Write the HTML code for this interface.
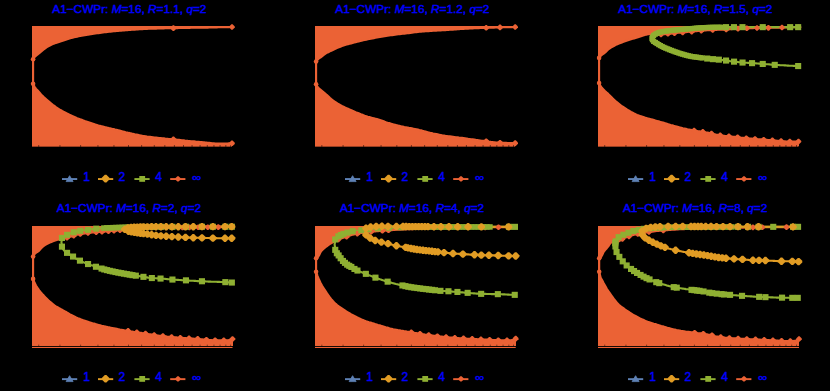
<!DOCTYPE html>
<html><head><meta charset="utf-8"><title>A1-CWPr</title>
<style>
html,body{margin:0;padding:0;background:#000;}
body{width:830px;height:391px;overflow:hidden;position:relative;font-family:"Liberation Sans",sans-serif;}
svg{position:absolute;left:0;top:0;display:block;}
text{font-family:"Liberation Sans",sans-serif;fill:#0000FF;stroke:#0000FF;stroke-width:.45px;}
.t{font-size:11.8px;}
.l{font-size:12px;}
i{font-style:italic;}
</style></head><body>
<svg width="830" height="391" viewBox="0 0 830 391">
<rect width="830" height="391" fill="#000"/>
<polygon points="32,26 232,26 232,27 230.5,27 229,27.1 227.4,27.1 225.9,27.2 224.4,27.2 222.9,27.2 221.4,27.3 219.9,27.3 218.3,27.3 216.8,27.4 215.3,27.4 213.8,27.4 212.3,27.5 210.7,27.5 209.2,27.5 207.7,27.6 206.2,27.6 204.7,27.6 203.2,27.6 201.6,27.7 200.1,27.7 198.6,27.7 197.1,27.7 195.6,27.8 194,27.8 192.5,27.8 191,27.8 189.5,27.9 188,27.9 186.5,27.9 184.9,27.9 183.4,28 181.9,28 180.4,28 178.9,28 177.3,28.1 175.8,28.1 174.3,28.1 172.8,28.2 171.3,28.2 169.7,28.2 168.2,28.3 166.7,28.3 165.2,28.3 163.7,28.4 162.2,28.4 160.6,28.4 159.1,28.5 157.6,28.5 156.1,28.6 154.6,28.6 153,28.6 151.5,28.7 150,28.7 148.5,28.8 147,28.9 145.5,28.9 143.9,29 142.4,29.1 140.9,29.2 139.4,29.3 137.9,29.4 136.3,29.5 134.8,29.6 133.3,29.7 131.8,29.8 130.3,29.9 128.8,30 127.2,30.2 125.7,30.3 124.2,30.4 122.7,30.5 121.2,30.6 119.6,30.8 118.1,30.9 116.6,31 115.1,31.2 113.6,31.3 112.1,31.5 110.5,31.6 109,31.8 107.5,32 106,32.1 104.5,32.3 102.9,32.5 101.4,32.7 99.9,32.9 98.4,33.1 96.9,33.3 95.4,33.5 93.8,33.7 92.3,33.9 90.8,34.2 89.3,34.4 87.8,34.7 86.2,34.9 84.7,35.2 83.2,35.5 81.7,35.7 80.2,36 78.6,36.3 77.1,36.7 75.6,37 74.1,37.3 72.6,37.7 71.1,38.1 69.5,38.6 68,39.1 66.5,39.5 65,40 63.5,40.5 61.9,41 60.4,41.4 58.9,41.9 57.4,42.4 55.9,42.9 54.4,43.5 52.8,44.1 51.3,44.7 49.8,45.5 48.3,46.3 46.8,47.2 45.2,48.3 43.7,49.4 42.2,50.6 40.7,51.9 39.2,53.3 37.7,54.5 36.1,55.7 34.6,57.1 33.1,59.2 33.1,83.7 34.6,86.8 36.1,88.9 37.7,90.5 39.2,92.2 40.7,94 42.2,95.6 43.7,97.1 45.2,98.4 46.8,99.7 48.3,101 49.8,102.3 51.3,103.6 52.8,104.8 54.4,105.9 55.9,107 57.4,108 58.9,109 60.4,110 61.9,110.8 63.5,111.7 65,112.5 66.5,113.3 68,114 69.5,114.7 71.1,115.4 72.6,116.1 74.1,116.8 75.6,117.4 77.1,118.1 78.6,118.7 80.2,119.3 81.7,119.8 83.2,120.4 84.7,121 86.2,121.5 87.8,122 89.3,122.5 90.8,123 92.3,123.5 93.8,124 95.4,124.5 96.9,124.9 98.4,125.4 99.9,125.8 101.4,126.2 102.9,126.6 104.5,127 106,127.4 107.5,127.7 109,128.1 110.5,128.4 112.1,128.8 113.6,129.1 115.1,129.5 116.6,129.8 118.1,130.2 119.6,130.6 121.2,131 122.7,131.4 124.2,131.8 125.7,132.2 127.2,132.5 128.8,132.9 130.3,133.2 131.8,133.6 133.3,133.9 134.8,134.3 136.3,134.6 137.9,134.9 139.4,135.2 140.9,135.5 142.4,135.8 143.9,136 145.5,136.2 147,136.5 148.5,136.7 150,136.9 151.5,137.1 153,137.3 154.6,137.5 156.1,137.6 157.6,137.8 159.1,138 160.6,138.1 162.2,138.3 163.7,138.4 165.2,138.6 166.7,138.7 168.2,138.9 169.7,139 171.3,139.1 172.8,139.3 174.3,139.4 175.8,139.6 177.3,139.8 178.9,139.9 180.4,140.1 181.9,140.3 183.4,140.4 184.9,140.6 186.5,140.7 188,140.9 189.5,141 191,141.2 192.5,141.3 194,141.4 195.6,141.6 197.1,141.7 198.6,141.8 200.1,142 201.6,142.1 203.2,142.2 204.7,142.4 206.2,142.5 207.7,142.7 209.2,142.8 210.7,143 212.3,143.2 213.8,143.3 215.3,143.5 216.8,143.5 218.3,143.5 219.9,143.5 221.4,143.5 222.9,143.5 224.4,143.5 225.9,143.5 227.4,143.5 229,143.4 230.5,143.4 232,143.3 232,146 32,146" fill="#EB6235" shape-rendering="crispEdges"/>
<rect x="32" y="146" width="200" height="0.65" fill="#EB6235"/>
<rect x="38.3" y="145.2" width="0.9" height="1.6" fill="#000" fill-opacity="0.7"/>
<rect x="59.5" y="145.2" width="0.9" height="1.6" fill="#000" fill-opacity="0.7"/>
<rect x="80.2" y="145.2" width="0.9" height="1.6" fill="#000" fill-opacity="0.7"/>
<rect x="97.5" y="145.2" width="0.9" height="1.6" fill="#000" fill-opacity="0.7"/>
<rect x="113.5" y="145.2" width="0.9" height="1.6" fill="#000" fill-opacity="0.7"/>
<rect x="128" y="145.2" width="0.9" height="1.6" fill="#000" fill-opacity="0.7"/>
<rect x="141.2" y="145.2" width="0.9" height="1.6" fill="#000" fill-opacity="0.7"/>
<rect x="153.8" y="145.2" width="0.9" height="1.6" fill="#000" fill-opacity="0.7"/>
<rect x="164.4" y="145.2" width="0.9" height="1.6" fill="#000" fill-opacity="0.7"/>
<rect x="173.9" y="145.2" width="0.9" height="1.6" fill="#000" fill-opacity="0.7"/>
<rect x="183" y="145.2" width="0.9" height="1.6" fill="#000" fill-opacity="0.7"/>
<rect x="191.6" y="145.2" width="0.9" height="1.6" fill="#000" fill-opacity="0.7"/>
<rect x="199.6" y="145.2" width="0.9" height="1.6" fill="#000" fill-opacity="0.7"/>
<rect x="206.8" y="145.2" width="0.9" height="1.6" fill="#000" fill-opacity="0.7"/>
<rect x="213.5" y="145.2" width="0.9" height="1.6" fill="#000" fill-opacity="0.7"/>
<rect x="219.6" y="145.2" width="0.9" height="1.6" fill="#000" fill-opacity="0.7"/>
<rect x="225.4" y="145.2" width="0.9" height="1.6" fill="#000" fill-opacity="0.7"/>
<rect x="230.2" y="145.2" width="0.9" height="1.6" fill="#000" fill-opacity="0.7"/>
<polyline points="232,27 230.5,27 229,27.1 227.4,27.1 225.9,27.2 224.4,27.2 222.9,27.2 221.4,27.3 219.9,27.3 218.3,27.3 216.8,27.4 215.3,27.4 213.8,27.4 212.3,27.5 210.7,27.5 209.2,27.5 207.7,27.6 206.2,27.6 204.7,27.6 203.2,27.6 201.6,27.7 200.1,27.7 198.6,27.7 197.1,27.7 195.6,27.8 194,27.8 192.5,27.8 191,27.8 189.5,27.9 188,27.9 186.5,27.9 184.9,27.9 183.4,28 181.9,28 180.4,28 178.9,28 177.3,28.1 175.8,28.1 174.3,28.1 172.8,28.2 171.3,28.2 169.7,28.2 168.2,28.3 166.7,28.3 165.2,28.3 163.7,28.4 162.2,28.4 160.6,28.4 159.1,28.5 157.6,28.5 156.1,28.6 154.6,28.6 153,28.6 151.5,28.7 150,28.7 148.5,28.8 147,28.9 145.5,28.9 143.9,29 142.4,29.1 140.9,29.2 139.4,29.3 137.9,29.4 136.3,29.5 134.8,29.6 133.3,29.7 131.8,29.8 130.3,29.9 128.8,30 127.2,30.2 125.7,30.3 124.2,30.4 122.7,30.5 121.2,30.6 119.6,30.8 118.1,30.9 116.6,31 115.1,31.2 113.6,31.3 112.1,31.5 110.5,31.6 109,31.8 107.5,32 106,32.1 104.5,32.3 102.9,32.5 101.4,32.7 99.9,32.9 98.4,33.1 96.9,33.3 95.4,33.5 93.8,33.7 92.3,33.9 90.8,34.2 89.3,34.4 87.8,34.7 86.2,34.9 84.7,35.2 83.2,35.5 81.7,35.7 80.2,36 78.6,36.3 77.1,36.7 75.6,37 74.1,37.3 72.6,37.7 71.1,38.1 69.5,38.6 68,39.1 66.5,39.5 65,40 63.5,40.5 61.9,41 60.4,41.4 58.9,41.9 57.4,42.4 55.9,42.9 54.4,43.5 52.8,44.1 51.3,44.7 49.8,45.5 48.3,46.3 46.8,47.2 45.2,48.3 43.7,49.4 42.2,50.6 40.7,51.9 39.2,53.3 37.7,54.5 36.1,55.7 34.6,57.1 33.1,59.2 33.1,83.7 34.6,86.8 36.1,88.9 37.7,90.5 39.2,92.2 40.7,94 42.2,95.6 43.7,97.1 45.2,98.4 46.8,99.7 48.3,101 49.8,102.3 51.3,103.6 52.8,104.8 54.4,105.9 55.9,107 57.4,108 58.9,109 60.4,110 61.9,110.8 63.5,111.7 65,112.5 66.5,113.3 68,114 69.5,114.7 71.1,115.4 72.6,116.1 74.1,116.8 75.6,117.4 77.1,118.1 78.6,118.7 80.2,119.3 81.7,119.8 83.2,120.4 84.7,121 86.2,121.5 87.8,122 89.3,122.5 90.8,123 92.3,123.5 93.8,124 95.4,124.5 96.9,124.9 98.4,125.4 99.9,125.8 101.4,126.2 102.9,126.6 104.5,127 106,127.4 107.5,127.7 109,128.1 110.5,128.4 112.1,128.8 113.6,129.1 115.1,129.5 116.6,129.8 118.1,130.2 119.6,130.6 121.2,131 122.7,131.4 124.2,131.8 125.7,132.2 127.2,132.5 128.8,132.9 130.3,133.2 131.8,133.6 133.3,133.9 134.8,134.3 136.3,134.6 137.9,134.9 139.4,135.2 140.9,135.5 142.4,135.8 143.9,136 145.5,136.2 147,136.5 148.5,136.7 150,136.9 151.5,137.1 153,137.3 154.6,137.5 156.1,137.6 157.6,137.8 159.1,138 160.6,138.1 162.2,138.3 163.7,138.4 165.2,138.6 166.7,138.7 168.2,138.9 169.7,139 171.3,139.1 172.8,139.3 174.3,139.4 175.8,139.6 177.3,139.8 178.9,139.9 180.4,140.1 181.9,140.3 183.4,140.4 184.9,140.6 186.5,140.7 188,140.9 189.5,141 191,141.2 192.5,141.3 194,141.4 195.6,141.6 197.1,141.7 198.6,141.8 200.1,142 201.6,142.1 203.2,142.2 204.7,142.4 206.2,142.5 207.7,142.7 209.2,142.8 210.7,143 212.3,143.2 213.8,143.3 215.3,143.5 216.8,143.5 218.3,143.5 219.9,143.5 221.4,143.5 222.9,143.5 224.4,143.5 225.9,143.5 227.4,143.5 229,143.4 230.5,143.4 232,143.3" fill="none" stroke="#EB6235" stroke-width="2.1" stroke-linejoin="round"/>
<polygon points="229.2,26.4 231.4,24.2 232.6,24.2 234.8,26.4 234.8,27.6 232.6,29.8 231.4,29.8 229.2,27.6" fill="#EB6235"/>
<polygon points="170.6,27.5 172.8,25.3 174,25.3 176.2,27.5 176.2,28.8 174,30.9 172.8,30.9 170.6,28.8" fill="#EB6235"/>
<polygon points="229.2,142.7 231.4,140.5 232.6,140.5 234.8,142.7 234.8,143.9 232.6,146.1 231.4,146.1 229.2,143.9" fill="#EB6235"/>
<polygon points="170.6,138.7 172.8,136.6 174,136.6 176.2,138.7 176.2,140 174,142.2 172.8,142.2 170.6,140" fill="#EB6235"/>
<circle cx="33.1" cy="59.2" r="2.3" fill="#EB6235"/>
<circle cx="33.1" cy="83.7" r="2.3" fill="#EB6235"/>
<text class="t" x="52.3" y="12.7">A1−CWPr: <tspan font-style="italic">M</tspan>=16, <tspan font-style="italic">R</tspan>=1.1, <tspan font-style="italic">q</tspan>=2</text>
<rect x="62" y="178.1" width="15.2" height="1.9" fill="#5E81B5"/>
<path d="M69.6 175.7L73.1 181.6L66.1 181.6Z" fill="#5E81B5" stroke="#5E81B5" stroke-width="0.8" stroke-linejoin="round"/>
<text class="l" x="83.3" y="181.1">1</text>
<rect x="98" y="178.1" width="15.2" height="1.9" fill="#E19C24"/>
<polygon points="101.8,177.8 104.8,174.8 106.4,174.8 109.4,177.8 109.4,179.5 106.4,182.5 104.8,182.5 101.8,179.5" fill="#E19C24"/>
<text class="l" x="118.4" y="181.1">2</text>
<rect x="134.4" y="178.1" width="15.2" height="1.9" fill="#8FB032"/>
<rect x="139.3" y="176" width="5.8" height="5.8" fill="#8FB032"/>
<text class="l" x="155.2" y="181.1">4</text>
<rect x="170.2" y="178.1" width="15.2" height="1.9" fill="#EB6235"/>
<polygon points="175.3,178.3 177.4,176.2 178.6,176.2 180.7,178.3 180.7,179.4 178.6,181.6 177.4,181.6 175.3,179.4" fill="#EB6235"/>
<text class="l" transform="translate(192.3 181.2) scale(1.06 0.86)" x="0" y="0">∞</text>
<polygon points="315,26 515.2,26 515.2,27 513.7,27 512.2,27.1 510.6,27.1 509.1,27.2 507.6,27.2 506.1,27.2 504.6,27.3 503,27.3 501.5,27.4 500,27.4 498.5,27.4 497,27.5 495.4,27.5 493.9,27.6 492.4,27.6 490.9,27.7 489.4,27.7 487.8,27.7 486.3,27.8 484.8,27.9 483.3,27.9 481.8,28 480.2,28 478.7,28.1 477.2,28.2 475.7,28.3 474.2,28.3 472.6,28.4 471.1,28.5 469.6,28.5 468.1,28.6 466.6,28.7 465,28.8 463.5,28.9 462,29 460.5,29 459,29.1 457.4,29.2 455.9,29.4 454.4,29.5 452.9,29.6 451.4,29.7 449.8,29.8 448.3,29.9 446.8,30 445.3,30.1 443.8,30.2 442.2,30.3 440.7,30.4 439.2,30.5 437.7,30.5 436.2,30.6 434.6,30.7 433.1,30.8 431.6,30.9 430.1,31 428.6,31.1 427,31.2 425.5,31.3 424,31.4 422.5,31.5 421,31.7 419.4,31.8 417.9,32 416.4,32.1 414.9,32.3 413.4,32.5 411.9,32.7 410.3,32.9 408.8,33.1 407.3,33.3 405.8,33.4 404.3,33.6 402.7,33.8 401.2,33.9 399.7,34.1 398.2,34.3 396.7,34.5 395.1,34.7 393.6,34.9 392.1,35.1 390.6,35.3 389.1,35.5 387.5,35.7 386,35.9 384.5,36.2 383,36.4 381.5,36.7 379.9,37 378.4,37.2 376.9,37.5 375.4,37.8 373.9,38.1 372.3,38.4 370.8,38.7 369.3,39 367.8,39.3 366.3,39.7 364.7,40 363.2,40.3 361.7,40.7 360.2,41 358.7,41.4 357.1,41.8 355.6,42.2 354.1,42.6 352.6,43 351.1,43.4 349.5,43.8 348,44.2 346.5,44.6 345,45.1 343.5,45.6 341.9,46.1 340.4,46.7 338.9,47.2 337.4,47.8 335.9,48.5 334.3,49.2 332.8,50 331.3,50.7 329.8,51.4 328.3,52.2 326.7,52.9 325.2,53.8 323.7,54.9 322.2,56.2 320.7,57.4 319.1,58.3 317.6,59.6 316.1,61.5 316.1,84.3 317.6,86.9 319.1,88.6 320.7,89.9 322.2,91.1 323.7,92.3 325.2,93.5 326.7,94.9 328.3,96.3 329.8,97.7 331.3,99 332.8,100.2 334.3,101.4 335.9,102.4 337.4,103.4 338.9,104.3 340.4,105.1 341.9,105.9 343.5,106.6 345,107.4 346.5,108.1 348,108.8 349.5,109.5 351.1,110.1 352.6,110.8 354.1,111.4 355.6,112.1 357.1,112.7 358.7,113.3 360.2,113.9 361.7,114.6 363.2,115.1 364.7,115.7 366.3,116.2 367.8,116.7 369.3,117.1 370.8,117.5 372.3,117.9 373.9,118.3 375.4,118.7 376.9,119.1 378.4,119.6 379.9,120.1 381.5,120.6 383,121.1 384.5,121.6 386,122.2 387.5,122.7 389.1,123.1 390.6,123.6 392.1,124 393.6,124.4 395.1,124.8 396.7,125.2 398.2,125.6 399.7,125.9 401.2,126.3 402.7,126.6 404.3,127 405.8,127.3 407.3,127.6 408.8,127.9 410.3,128.1 411.9,128.4 413.4,128.7 414.9,129 416.4,129.3 417.9,129.6 419.4,130 421,130.3 422.5,130.8 424,131.2 425.5,131.6 427,132 428.6,132.4 430.1,132.8 431.6,133.1 433.1,133.5 434.6,133.8 436.2,134.1 437.7,134.4 439.2,134.7 440.7,135 442.2,135.3 443.8,135.5 445.3,135.8 446.8,136 448.3,136.2 449.8,136.4 451.4,136.6 452.9,136.8 454.4,137 455.9,137.2 457.4,137.4 459,137.6 460.5,137.7 462,137.9 463.5,138.1 465,138.3 466.6,138.5 468.1,138.8 469.6,139 471.1,139.2 472.6,139.4 474.2,139.6 475.7,139.9 477.2,140.1 478.7,140.3 480.2,140.5 481.8,140.7 483.3,140.9 484.8,141.1 486.3,141.3 487.8,141.5 489.4,141.7 490.9,141.9 492.4,142 493.9,142.2 495.4,142.4 497,142.5 498.5,142.6 500,142.7 501.5,142.7 503,142.8 504.6,142.9 506.1,142.9 507.6,143 509.1,143 510.6,143 512.2,143.1 513.7,143.1 515.2,143.1 515.2,146 315,146" fill="#EB6235" shape-rendering="crispEdges"/>
<rect x="315" y="146" width="200.2" height="0.65" fill="#EB6235"/>
<rect x="321.4" y="145.2" width="0.9" height="1.6" fill="#000" fill-opacity="0.7"/>
<rect x="342.6" y="145.2" width="0.9" height="1.6" fill="#000" fill-opacity="0.7"/>
<rect x="363.2" y="145.2" width="0.9" height="1.6" fill="#000" fill-opacity="0.7"/>
<rect x="380.6" y="145.2" width="0.9" height="1.6" fill="#000" fill-opacity="0.7"/>
<rect x="396.4" y="145.2" width="0.9" height="1.6" fill="#000" fill-opacity="0.7"/>
<rect x="410.9" y="145.2" width="0.9" height="1.6" fill="#000" fill-opacity="0.7"/>
<rect x="424.2" y="145.2" width="0.9" height="1.6" fill="#000" fill-opacity="0.7"/>
<rect x="436.8" y="145.2" width="0.9" height="1.6" fill="#000" fill-opacity="0.7"/>
<rect x="447.4" y="145.2" width="0.9" height="1.6" fill="#000" fill-opacity="0.7"/>
<rect x="456.9" y="145.2" width="0.9" height="1.6" fill="#000" fill-opacity="0.7"/>
<rect x="465.9" y="145.2" width="0.9" height="1.6" fill="#000" fill-opacity="0.7"/>
<rect x="474.6" y="145.2" width="0.9" height="1.6" fill="#000" fill-opacity="0.7"/>
<rect x="482.6" y="145.2" width="0.9" height="1.6" fill="#000" fill-opacity="0.7"/>
<rect x="489.8" y="145.2" width="0.9" height="1.6" fill="#000" fill-opacity="0.7"/>
<rect x="496.4" y="145.2" width="0.9" height="1.6" fill="#000" fill-opacity="0.7"/>
<rect x="502.6" y="145.2" width="0.9" height="1.6" fill="#000" fill-opacity="0.7"/>
<rect x="508.4" y="145.2" width="0.9" height="1.6" fill="#000" fill-opacity="0.7"/>
<rect x="513.1" y="145.2" width="0.9" height="1.6" fill="#000" fill-opacity="0.7"/>
<polyline points="515.2,27 513.7,27 512.2,27.1 510.6,27.1 509.1,27.2 507.6,27.2 506.1,27.2 504.6,27.3 503,27.3 501.5,27.4 500,27.4 498.5,27.4 497,27.5 495.4,27.5 493.9,27.6 492.4,27.6 490.9,27.7 489.4,27.7 487.8,27.7 486.3,27.8 484.8,27.9 483.3,27.9 481.8,28 480.2,28 478.7,28.1 477.2,28.2 475.7,28.3 474.2,28.3 472.6,28.4 471.1,28.5 469.6,28.5 468.1,28.6 466.6,28.7 465,28.8 463.5,28.9 462,29 460.5,29 459,29.1 457.4,29.2 455.9,29.4 454.4,29.5 452.9,29.6 451.4,29.7 449.8,29.8 448.3,29.9 446.8,30 445.3,30.1 443.8,30.2 442.2,30.3 440.7,30.4 439.2,30.5 437.7,30.5 436.2,30.6 434.6,30.7 433.1,30.8 431.6,30.9 430.1,31 428.6,31.1 427,31.2 425.5,31.3 424,31.4 422.5,31.5 421,31.7 419.4,31.8 417.9,32 416.4,32.1 414.9,32.3 413.4,32.5 411.9,32.7 410.3,32.9 408.8,33.1 407.3,33.3 405.8,33.4 404.3,33.6 402.7,33.8 401.2,33.9 399.7,34.1 398.2,34.3 396.7,34.5 395.1,34.7 393.6,34.9 392.1,35.1 390.6,35.3 389.1,35.5 387.5,35.7 386,35.9 384.5,36.2 383,36.4 381.5,36.7 379.9,37 378.4,37.2 376.9,37.5 375.4,37.8 373.9,38.1 372.3,38.4 370.8,38.7 369.3,39 367.8,39.3 366.3,39.7 364.7,40 363.2,40.3 361.7,40.7 360.2,41 358.7,41.4 357.1,41.8 355.6,42.2 354.1,42.6 352.6,43 351.1,43.4 349.5,43.8 348,44.2 346.5,44.6 345,45.1 343.5,45.6 341.9,46.1 340.4,46.7 338.9,47.2 337.4,47.8 335.9,48.5 334.3,49.2 332.8,50 331.3,50.7 329.8,51.4 328.3,52.2 326.7,52.9 325.2,53.8 323.7,54.9 322.2,56.2 320.7,57.4 319.1,58.3 317.6,59.6 316.1,61.5 316.1,84.3 317.6,86.9 319.1,88.6 320.7,89.9 322.2,91.1 323.7,92.3 325.2,93.5 326.7,94.9 328.3,96.3 329.8,97.7 331.3,99 332.8,100.2 334.3,101.4 335.9,102.4 337.4,103.4 338.9,104.3 340.4,105.1 341.9,105.9 343.5,106.6 345,107.4 346.5,108.1 348,108.8 349.5,109.5 351.1,110.1 352.6,110.8 354.1,111.4 355.6,112.1 357.1,112.7 358.7,113.3 360.2,113.9 361.7,114.6 363.2,115.1 364.7,115.7 366.3,116.2 367.8,116.7 369.3,117.1 370.8,117.5 372.3,117.9 373.9,118.3 375.4,118.7 376.9,119.1 378.4,119.6 379.9,120.1 381.5,120.6 383,121.1 384.5,121.6 386,122.2 387.5,122.7 389.1,123.1 390.6,123.6 392.1,124 393.6,124.4 395.1,124.8 396.7,125.2 398.2,125.6 399.7,125.9 401.2,126.3 402.7,126.6 404.3,127 405.8,127.3 407.3,127.6 408.8,127.9 410.3,128.1 411.9,128.4 413.4,128.7 414.9,129 416.4,129.3 417.9,129.6 419.4,130 421,130.3 422.5,130.8 424,131.2 425.5,131.6 427,132 428.6,132.4 430.1,132.8 431.6,133.1 433.1,133.5 434.6,133.8 436.2,134.1 437.7,134.4 439.2,134.7 440.7,135 442.2,135.3 443.8,135.5 445.3,135.8 446.8,136 448.3,136.2 449.8,136.4 451.4,136.6 452.9,136.8 454.4,137 455.9,137.2 457.4,137.4 459,137.6 460.5,137.7 462,137.9 463.5,138.1 465,138.3 466.6,138.5 468.1,138.8 469.6,139 471.1,139.2 472.6,139.4 474.2,139.6 475.7,139.9 477.2,140.1 478.7,140.3 480.2,140.5 481.8,140.7 483.3,140.9 484.8,141.1 486.3,141.3 487.8,141.5 489.4,141.7 490.9,141.9 492.4,142 493.9,142.2 495.4,142.4 497,142.5 498.5,142.6 500,142.7 501.5,142.7 503,142.8 504.6,142.9 506.1,142.9 507.6,143 509.1,143 510.6,143 512.2,143.1 513.7,143.1 515.2,143.1" fill="none" stroke="#EB6235" stroke-width="2.1" stroke-linejoin="round"/>
<polygon points="512.4,26.4 514.6,24.2 515.8,24.2 518,26.4 518,27.6 515.8,29.8 514.6,29.8 512.4,27.6" fill="#EB6235"/>
<polygon points="497.2,26.8 499.4,24.6 500.6,24.6 502.8,26.8 502.8,28 500.6,30.2 499.4,30.2 497.2,28" fill="#EB6235"/>
<polygon points="483.4,27.2 485.6,25 486.8,25 489,27.2 489,28.4 486.8,30.6 485.6,30.6 483.4,28.4" fill="#EB6235"/>
<polygon points="512.4,142.5 514.6,140.3 515.8,140.3 518,142.5 518,143.7 515.8,145.9 514.6,145.9 512.4,143.7" fill="#EB6235"/>
<polygon points="497.2,142.1 499.4,139.9 500.6,139.9 502.8,142.1 502.8,143.3 500.6,145.5 499.4,145.5 497.2,143.3" fill="#EB6235"/>
<polygon points="483.4,140.6 485.6,138.5 486.8,138.5 489,140.6 489,141.9 486.8,144.1 485.6,144.1 483.4,141.9" fill="#EB6235"/>
<circle cx="316.1" cy="61.5" r="2.3" fill="#EB6235"/>
<circle cx="316.1" cy="84.3" r="2.3" fill="#EB6235"/>
<text class="t" x="335.3" y="12.7">A1−CWPr: <tspan font-style="italic">M</tspan>=16, <tspan font-style="italic">R</tspan>=1.2, <tspan font-style="italic">q</tspan>=2</text>
<rect x="345" y="178.1" width="15.2" height="1.9" fill="#5E81B5"/>
<path d="M352.6 175.7L356.1 181.6L349.1 181.6Z" fill="#5E81B5" stroke="#5E81B5" stroke-width="0.8" stroke-linejoin="round"/>
<text class="l" x="366.3" y="181.1">1</text>
<rect x="381" y="178.1" width="15.2" height="1.9" fill="#E19C24"/>
<polygon points="384.8,177.8 387.8,174.8 389.4,174.8 392.4,177.8 392.4,179.5 389.4,182.5 387.8,182.5 384.8,179.5" fill="#E19C24"/>
<text class="l" x="401.4" y="181.1">2</text>
<rect x="417.4" y="178.1" width="15.2" height="1.9" fill="#8FB032"/>
<rect x="422.3" y="176" width="5.8" height="5.8" fill="#8FB032"/>
<text class="l" x="438.2" y="181.1">4</text>
<rect x="453.2" y="178.1" width="15.2" height="1.9" fill="#EB6235"/>
<polygon points="458.3,178.3 460.4,176.2 461.6,176.2 463.7,178.3 463.7,179.4 461.6,181.6 460.4,181.6 458.3,179.4" fill="#EB6235"/>
<text class="l" transform="translate(475.3 181.2) scale(1.06 0.86)" x="0" y="0">∞</text>
<polygon points="598,26 798.5,26 798.5,27.2 797,27.2 795.5,27.2 793.9,27.3 792.4,27.3 790.9,27.3 789.4,27.3 787.8,27.4 786.3,27.4 784.8,27.4 783.3,27.5 781.8,27.5 780.2,27.5 778.7,27.6 777.2,27.6 775.7,27.7 774.1,27.8 772.6,27.8 771.1,27.8 769.6,27.9 768.1,27.9 766.5,27.9 765,27.9 763.5,27.9 762,28 760.4,28 758.9,28 757.4,28 755.9,28 754.4,28 752.8,28.1 751.3,28.1 749.8,28.2 748.3,28.2 746.7,28.2 745.2,28.3 743.7,28.4 742.2,28.4 740.7,28.5 739.1,28.5 737.6,28.6 736.1,28.7 734.6,28.8 733,29 731.5,29.1 730,29.2 728.5,29.4 727,29.5 725.4,29.5 723.9,29.6 722.4,29.7 720.9,29.7 719.3,29.8 717.8,29.8 716.3,29.9 714.8,29.9 713.3,30 711.7,30 710.2,30.1 708.7,30.2 707.2,30.3 705.6,30.4 704.1,30.5 702.6,30.6 701.1,30.7 699.6,30.8 698,31 696.5,31.1 695,31.3 693.5,31.4 692,31.6 690.4,31.7 688.9,31.8 687.4,32 685.9,32.1 684.3,32.3 682.8,32.4 681.3,32.5 679.8,32.7 678.3,32.8 676.7,33 675.2,33.1 673.7,33.3 672.2,33.4 670.6,33.6 669.1,33.7 667.6,33.8 666.1,34 664.6,34.1 663,34.3 661.5,34.4 660,34.5 658.5,34.6 656.9,34.6 655.4,34.5 653.9,34.5 652.4,34.4 650.9,34.3 649.3,34.3 647.8,34.3 646.3,34.6 644.8,35 643.2,35.5 641.7,36 640.2,36.6 638.7,37.1 637.2,37.6 635.6,38 634.1,38.4 632.6,38.8 631.1,39.2 629.5,39.7 628,40.2 626.5,40.7 625,41.2 623.5,41.8 621.9,42.4 620.4,43 618.9,43.6 617.4,44.2 615.8,44.9 614.3,45.7 612.8,46.5 611.3,47.4 609.8,48.3 608.2,49.5 606.7,50.9 605.2,52.4 603.7,53.6 602.1,54.7 600.6,56.1 599.1,57.9 599.1,83 600.6,86.1 602.1,88.1 603.7,89.7 605.2,91.2 606.7,92.6 608.2,93.9 609.8,95.4 611.3,96.9 612.8,98.5 614.3,99.9 615.8,101.3 617.4,102.6 618.9,103.8 620.4,105 621.9,106.1 623.5,107.2 625,108.2 626.5,109.2 628,110.1 629.5,111 631.1,111.9 632.6,112.7 634.1,113.5 635.6,114.2 637.2,114.9 638.7,115.5 640.2,116.1 641.7,116.6 643.2,117.1 644.8,117.6 646.3,118 647.8,118.4 649.3,118.8 650.9,119.2 652.4,119.6 653.9,120 655.4,120.5 656.9,120.9 658.5,121.3 660,121.8 661.5,122.2 663,122.6 664.6,123.1 666.1,123.5 667.6,124 669.1,124.4 670.6,124.9 672.2,125.3 673.7,125.8 675.2,126.2 676.7,126.6 678.3,127 679.8,127.4 681.3,127.8 682.8,128.2 684.3,128.5 685.9,128.8 687.4,129.2 688.9,129.5 690.4,129.8 692,130.1 693.5,130.4 695,130.7 696.5,130.9 698,131.2 699.6,131.4 701.1,131.7 702.6,131.9 704.1,132.1 705.6,132.4 707.2,132.6 708.7,132.9 710.2,133.2 711.7,133.6 713.3,133.9 714.8,134.3 716.3,134.7 717.8,134.9 719.3,135.2 720.9,135.4 722.4,135.6 723.9,135.8 725.4,136 727,136.1 728.5,136.3 730,136.5 731.5,136.6 733,136.8 734.6,136.9 736.1,137.1 737.6,137.3 739.1,137.4 740.7,137.6 742.2,137.7 743.7,137.9 745.2,138 746.7,138.2 748.3,138.3 749.8,138.5 751.3,138.6 752.8,138.8 754.4,138.9 755.9,139 757.4,139.2 758.9,139.3 760.4,139.4 762,139.5 763.5,139.6 765,139.8 766.5,139.9 768.1,140 769.6,140.1 771.1,140.2 772.6,140.3 774.1,140.5 775.7,140.6 777.2,140.7 778.7,140.9 780.2,141 781.8,141.2 783.3,141.3 784.8,141.4 786.3,141.5 787.8,141.5 789.4,141.5 790.9,141.5 792.4,141.5 793.9,141.5 795.5,141.5 797,141.5 798.5,141.5 798.5,146 598,146" fill="#EB6235" shape-rendering="crispEdges"/>
<rect x="598" y="146" width="200.5" height="0.65" fill="#EB6235"/>
<rect x="604.3" y="145.2" width="0.9" height="1.6" fill="#000" fill-opacity="0.7"/>
<rect x="625.5" y="145.2" width="0.9" height="1.6" fill="#000" fill-opacity="0.7"/>
<rect x="646.2" y="145.2" width="0.9" height="1.6" fill="#000" fill-opacity="0.7"/>
<rect x="663.5" y="145.2" width="0.9" height="1.6" fill="#000" fill-opacity="0.7"/>
<rect x="679.4" y="145.2" width="0.9" height="1.6" fill="#000" fill-opacity="0.7"/>
<rect x="693.9" y="145.2" width="0.9" height="1.6" fill="#000" fill-opacity="0.7"/>
<rect x="707.2" y="145.2" width="0.9" height="1.6" fill="#000" fill-opacity="0.7"/>
<rect x="719.8" y="145.2" width="0.9" height="1.6" fill="#000" fill-opacity="0.7"/>
<rect x="730.3" y="145.2" width="0.9" height="1.6" fill="#000" fill-opacity="0.7"/>
<rect x="739.8" y="145.2" width="0.9" height="1.6" fill="#000" fill-opacity="0.7"/>
<rect x="748.9" y="145.2" width="0.9" height="1.6" fill="#000" fill-opacity="0.7"/>
<rect x="757.5" y="145.2" width="0.9" height="1.6" fill="#000" fill-opacity="0.7"/>
<rect x="765.5" y="145.2" width="0.9" height="1.6" fill="#000" fill-opacity="0.7"/>
<rect x="772.8" y="145.2" width="0.9" height="1.6" fill="#000" fill-opacity="0.7"/>
<rect x="779.4" y="145.2" width="0.9" height="1.6" fill="#000" fill-opacity="0.7"/>
<rect x="785.5" y="145.2" width="0.9" height="1.6" fill="#000" fill-opacity="0.7"/>
<rect x="791.3" y="145.2" width="0.9" height="1.6" fill="#000" fill-opacity="0.7"/>
<rect x="796.1" y="145.2" width="0.9" height="1.6" fill="#000" fill-opacity="0.7"/>
<polyline points="798.5,27.2 797,27.2 795.5,27.2 793.9,27.3 792.4,27.3 790.9,27.3 789.4,27.3 787.8,27.4 786.3,27.4 784.8,27.4 783.3,27.5 781.8,27.5 780.2,27.5 778.7,27.6 777.2,27.6 775.7,27.7 774.1,27.8 772.6,27.8 771.1,27.8 769.6,27.9 768.1,27.9 766.5,27.9 765,27.9 763.5,27.9 762,28 760.4,28 758.9,28 757.4,28 755.9,28 754.4,28 752.8,28.1 751.3,28.1 749.8,28.2 748.3,28.2 746.7,28.2 745.2,28.3 743.7,28.4 742.2,28.4 740.7,28.5 739.1,28.5 737.6,28.6 736.1,28.7 734.6,28.8 733,29 731.5,29.1 730,29.2 728.5,29.4 727,29.5 725.4,29.5 723.9,29.6 722.4,29.7 720.9,29.7 719.3,29.8 717.8,29.8 716.3,29.9 714.8,29.9 713.3,30 711.7,30 710.2,30.1 708.7,30.2 707.2,30.3 705.6,30.4 704.1,30.5 702.6,30.6 701.1,30.7 699.6,30.8 698,31 696.5,31.1 695,31.3 693.5,31.4 692,31.6 690.4,31.7 688.9,31.8 687.4,32 685.9,32.1 684.3,32.3 682.8,32.4 681.3,32.5 679.8,32.7 678.3,32.8 676.7,33 675.2,33.1 673.7,33.3 672.2,33.4 670.6,33.6 669.1,33.7 667.6,33.8 666.1,34 664.6,34.1 663,34.3 661.5,34.4 660,34.5 658.5,34.6 656.9,34.6 655.4,34.5 653.9,34.5 652.4,34.4 650.9,34.3 649.3,34.3 647.8,34.3 646.3,34.6 644.8,35 643.2,35.5 641.7,36 640.2,36.6 638.7,37.1 637.2,37.6 635.6,38 634.1,38.4 632.6,38.8 631.1,39.2 629.5,39.7 628,40.2 626.5,40.7 625,41.2 623.5,41.8 621.9,42.4 620.4,43 618.9,43.6 617.4,44.2 615.8,44.9 614.3,45.7 612.8,46.5 611.3,47.4 609.8,48.3 608.2,49.5 606.7,50.9 605.2,52.4 603.7,53.6 602.1,54.7 600.6,56.1 599.1,57.9 599.1,83 600.6,86.1 602.1,88.1 603.7,89.7 605.2,91.2 606.7,92.6 608.2,93.9 609.8,95.4 611.3,96.9 612.8,98.5 614.3,99.9 615.8,101.3 617.4,102.6 618.9,103.8 620.4,105 621.9,106.1 623.5,107.2 625,108.2 626.5,109.2 628,110.1 629.5,111 631.1,111.9 632.6,112.7 634.1,113.5 635.6,114.2 637.2,114.9 638.7,115.5 640.2,116.1 641.7,116.6 643.2,117.1 644.8,117.6 646.3,118 647.8,118.4 649.3,118.8 650.9,119.2 652.4,119.6 653.9,120 655.4,120.5 656.9,120.9 658.5,121.3 660,121.8 661.5,122.2 663,122.6 664.6,123.1 666.1,123.5 667.6,124 669.1,124.4 670.6,124.9 672.2,125.3 673.7,125.8 675.2,126.2 676.7,126.6 678.3,127 679.8,127.4 681.3,127.8 682.8,128.2 684.3,128.5 685.9,128.8 687.4,129.2 688.9,129.5 690.4,129.8 692,130.1 693.5,130.4 695,130.7 696.5,130.9 698,131.2 699.6,131.4 701.1,131.7 702.6,131.9 704.1,132.1 705.6,132.4 707.2,132.6 708.7,132.9 710.2,133.2 711.7,133.6 713.3,133.9 714.8,134.3 716.3,134.7 717.8,134.9 719.3,135.2 720.9,135.4 722.4,135.6 723.9,135.8 725.4,136 727,136.1 728.5,136.3 730,136.5 731.5,136.6 733,136.8 734.6,136.9 736.1,137.1 737.6,137.3 739.1,137.4 740.7,137.6 742.2,137.7 743.7,137.9 745.2,138 746.7,138.2 748.3,138.3 749.8,138.5 751.3,138.6 752.8,138.8 754.4,138.9 755.9,139 757.4,139.2 758.9,139.3 760.4,139.4 762,139.5 763.5,139.6 765,139.8 766.5,139.9 768.1,140 769.6,140.1 771.1,140.2 772.6,140.3 774.1,140.5 775.7,140.6 777.2,140.7 778.7,140.9 780.2,141 781.8,141.2 783.3,141.3 784.8,141.4 786.3,141.5 787.8,141.5 789.4,141.5 790.9,141.5 792.4,141.5 793.9,141.5 795.5,141.5 797,141.5 798.5,141.5" fill="none" stroke="#EB6235" stroke-width="2.1" stroke-linejoin="round"/>
<polyline points="798.5,27.1 797.5,27.1 796.5,27.1 795.5,27.1 794.5,27.1 793.4,27.1 792.4,27.1 791.4,27.1 790.4,27.1 789.4,27.1 788.4,27.1 787.4,27.1 786.4,27.1 785.4,27.1 784.4,27.1 783.3,27.1 782.3,27.1 781.3,27.1 780.3,27.1 779.3,27.1 778.3,27.1 777.3,27.1 776.3,27.1 775.3,27.1 774.3,27.1 773.2,27.1 772.2,27.1 771.2,27.1 770.2,27.1 769.2,27.1 768.2,27.1 767.2,27.1 766.2,27.1 765.2,27.1 764.1,27.1 763.1,27.1 762.1,27.1 761.1,27.1 760.1,27.1 759.1,27.1 758.1,27.1 757.1,27.1 756.1,27.1 755.1,27.1 754,27.1 753,27.1 752,27.1 751,27.1 750,27.1 749,27.1 748,27.1 747,27.1 746,27.1 745,27.1 743.9,27.1 742.9,27.1 741.9,27.1 740.9,27.1 739.9,27.1 738.9,27.1 737.9,27.1 736.9,27.1 735.9,27.1 734.8,27.1 733.8,27.1 732.8,27.1 731.8,27.1 730.8,27.1 729.8,27.1 728.8,27.1 727.8,27.2 726.8,27.2 725.8,27.2 724.7,27.2 723.7,27.2 722.7,27.2 721.7,27.2 720.7,27.2 719.7,27.2 718.7,27.3 717.7,27.3 716.7,27.3 715.7,27.3 714.6,27.3 713.6,27.3 712.6,27.4 711.6,27.4 710.6,27.4 709.6,27.4 708.6,27.4 707.6,27.5 706.6,27.5 705.5,27.6 704.5,27.6 703.5,27.7 702.5,27.7 701.5,27.8 700.5,27.9 699.5,27.9 698.5,28 697.5,28.1 696.5,28.2 695.4,28.2 694.4,28.3 693.4,28.4 692.4,28.5 691.4,28.6 690.4,28.7 689.4,28.8 688.4,28.9 687.4,28.9 686.4,29 685.3,29.1 684.3,29.2 683.3,29.3 682.3,29.4 681.3,29.5 680.3,29.6 679.3,29.7 678.3,29.8 677.3,29.9 676.2,29.9 675.2,30 674.2,30.1 673.2,30.2 672.2,30.4 671.2,30.5 670.2,30.6 669.2,30.7 668.2,30.8 667.2,30.9 666.1,31.1 665.1,31.2 664.1,31.4 663.1,31.5 662.1,31.7 661.1,31.9 660.1,32.2 659.1,32.5 658.1,32.8 657.1,33.3 656,33.8 655,34.3 654,35 653,36 652,38.5 652,38.5 653,40.8 654,41.7 655,42.3 656,42.9 657.1,43.6 658.1,44.2 659.1,44.9 660.1,45.5 661.1,46 662.1,46.5 663.1,47 664.1,47.4 665.1,47.9 666.1,48.3 667.2,48.7 668.2,49.1 669.2,49.5 670.2,49.9 671.2,50.3 672.2,50.7 673.2,51.1 674.2,51.5 675.2,51.8 676.2,52.2 677.3,52.5 678.3,52.9 679.3,53.2 680.3,53.5 681.3,53.8 682.3,54.1 683.3,54.4 684.3,54.7 685.3,55 686.4,55.3 687.4,55.5 688.4,55.8 689.4,56 690.4,56.2 691.4,56.4 692.4,56.6 693.4,56.7 694.4,56.9 695.4,57 696.5,57.2 697.5,57.3 698.5,57.4 699.5,57.6 700.5,57.7 701.5,57.9 702.5,58 703.5,58.1 704.5,58.3 705.5,58.4 706.6,58.5 707.6,58.6 708.6,58.7 709.6,58.9 710.6,59 711.6,59.1 712.6,59.1 713.6,59.2 714.6,59.3 715.7,59.4 716.7,59.5 717.7,59.6 718.7,59.7 719.7,59.8 720.7,59.9 721.7,60 722.7,60.1 723.7,60.3 724.7,60.4 725.8,60.5 726.8,60.7 727.8,60.8 728.8,60.9 729.8,61.1 730.8,61.2 731.8,61.3 732.8,61.5 733.8,61.6 734.8,61.7 735.9,61.8 736.9,61.9 737.9,62 738.9,62.2 739.9,62.3 740.9,62.4 741.9,62.5 742.9,62.5 743.9,62.6 745,62.7 746,62.7 747,62.8 748,62.9 749,62.9 750,63 751,63 752,63.1 753,63.2 754,63.2 755.1,63.3 756.1,63.4 757.1,63.5 758.1,63.5 759.1,63.6 760.1,63.7 761.1,63.8 762.1,63.9 763.1,63.9 764.1,64 765.2,64.1 766.2,64.2 767.2,64.2 768.2,64.3 769.2,64.4 770.2,64.5 771.2,64.6 772.2,64.6 773.2,64.7 774.3,64.8 775.3,64.8 776.3,64.9 777.3,65 778.3,65 779.3,65.1 780.3,65.2 781.3,65.2 782.3,65.3 783.3,65.3 784.4,65.4 785.4,65.4 786.4,65.5 787.4,65.6 788.4,65.6 789.4,65.7 790.4,65.7 791.4,65.8 792.4,65.8 793.4,65.9 794.5,65.9 795.5,66 796.5,66 797.5,66.1 798.5,66.1" fill="none" stroke="#8FB032" stroke-width="2.1" stroke-linejoin="round"/>
<polygon points="795.7,26.6 797.9,24.4 799.1,24.4 801.3,26.6 801.3,27.8 799.1,30 797.9,30 795.7,27.8" fill="#EB6235"/>
<polygon points="779.2,26.9 781.4,24.7 782.6,24.7 784.8,26.9 784.8,28.1 782.6,30.3 781.4,30.3 779.2,28.1" fill="#EB6235"/>
<polygon points="765.6,27.3 767.8,25.1 769,25.1 771.2,27.3 771.2,28.5 769,30.7 767.8,30.7 765.6,28.5" fill="#EB6235"/>
<polygon points="754.2,27.4 756.4,25.2 757.6,25.2 759.8,27.4 759.8,28.6 757.6,30.8 756.4,30.8 754.2,28.6" fill="#EB6235"/>
<polygon points="744,27.6 746.2,25.4 747.4,25.4 749.6,27.6 749.6,28.9 747.4,31 746.2,31 744,28.9" fill="#EB6235"/>
<polygon points="735.2,28 737.4,25.8 738.6,25.8 740.8,28 740.8,29.2 738.6,31.4 737.4,31.4 735.2,29.2" fill="#EB6235"/>
<polygon points="723.4,28.9 725.6,26.7 726.8,26.7 729,28.9 729,30.1 726.8,32.3 725.6,32.3 723.4,30.1" fill="#EB6235"/>
<polygon points="709.9,29.4 712.1,27.2 713.3,27.2 715.5,29.4 715.5,30.6 713.3,32.8 712.1,32.8 709.9,30.6" fill="#EB6235"/>
<polygon points="698.5,30.1 700.7,27.9 701.9,27.9 704.1,30.1 704.1,31.3 701.9,33.5 700.7,33.5 698.5,31.3" fill="#EB6235"/>
<polygon points="688.9,31 691.1,28.8 692.3,28.8 694.5,31 694.5,32.2 692.3,34.4 691.1,34.4 688.9,32.2" fill="#EB6235"/>
<polygon points="679.9,31.8 682.1,29.6 683.3,29.6 685.5,31.8 685.5,33 683.3,35.2 682.1,35.2 679.9,33" fill="#EB6235"/>
<polygon points="671.7,32.6 673.9,30.4 675.1,30.4 677.3,32.6 677.3,33.8 675.1,36 673.9,36 671.7,33.8" fill="#EB6235"/>
<polygon points="665.1,33.2 667.3,31 668.5,31 670.7,33.2 670.7,34.4 668.5,36.6 667.3,36.6 665.1,34.4" fill="#EB6235"/>
<polygon points="658.2,33.9 660.4,31.7 661.6,31.7 663.8,33.9 663.8,35.1 661.6,37.3 660.4,37.3 658.2,35.1" fill="#EB6235"/>
<polygon points="795.7,140.9 797.9,138.7 799.1,138.7 801.3,140.9 801.3,142.1 799.1,144.3 797.9,144.3 795.7,142.1" fill="#EB6235"/>
<polygon points="787,140.9 789.2,138.7 790.4,138.7 792.6,140.9 792.6,142.2 790.4,144.3 789.2,144.3 787,142.2" fill="#EB6235"/>
<polygon points="778.3,140.5 780.5,138.3 781.7,138.3 783.9,140.5 783.9,141.7 781.7,143.9 780.5,143.9 778.3,141.7" fill="#EB6235"/>
<polygon points="769.6,139.7 771.8,137.5 773,137.5 775.2,139.7 775.2,140.9 773,143.1 771.8,143.1 769.6,140.9" fill="#EB6235"/>
<polygon points="760.9,139 763.1,136.9 764.3,136.9 766.5,139 766.5,140.3 764.3,142.5 763.1,142.5 760.9,140.3" fill="#EB6235"/>
<polygon points="752.2,138.3 754.4,136.2 755.6,136.2 757.8,138.3 757.8,139.6 755.6,141.8 754.4,141.8 752.2,139.6" fill="#EB6235"/>
<polygon points="743.5,137.5 745.7,135.4 746.9,135.4 749.1,137.5 749.1,138.8 746.9,141 745.7,141 743.5,138.8" fill="#EB6235"/>
<polygon points="734.8,136.6 737,134.5 738.2,134.5 740.4,136.6 740.4,137.9 738.2,140.1 737,140.1 734.8,137.9" fill="#EB6235"/>
<polygon points="726.1,135.7 728.3,133.5 729.5,133.5 731.7,135.7 731.7,137 729.5,139.1 728.3,139.1 726.1,137" fill="#EB6235"/>
<polygon points="717.4,134.7 719.6,132.5 720.8,132.5 723,134.7 723,135.9 720.8,138.1 719.6,138.1 717.4,135.9" fill="#EB6235"/>
<polygon points="708.7,132.9 710.9,130.7 712.1,130.7 714.3,132.9 714.3,134.1 712.1,136.3 710.9,136.3 708.7,134.1" fill="#EB6235"/>
<polygon points="700,131.3 702.2,129.1 703.4,129.1 705.6,131.3 705.6,132.6 703.4,134.7 702.2,134.7 700,132.6" fill="#EB6235"/>
<polygon points="691.3,129.9 693.5,127.7 694.7,127.7 696.9,129.9 696.9,131.1 694.7,133.3 693.5,133.3 691.3,131.1" fill="#EB6235"/>
<circle cx="599.1" cy="57.9" r="2.3" fill="#EB6235"/>
<circle cx="599.1" cy="83" r="2.3" fill="#EB6235"/>
<rect x="795.1" y="24.1" width="6.1" height="6.1" fill="#8FB032"/>
<rect x="787.1" y="24.1" width="6.1" height="6.1" fill="#8FB032"/>
<rect x="759.7" y="24.1" width="6.1" height="6.1" fill="#8FB032"/>
<rect x="739.4" y="24.1" width="6.1" height="6.1" fill="#8FB032"/>
<rect x="730.9" y="24.1" width="6.1" height="6.1" fill="#8FB032"/>
<rect x="723" y="24.1" width="6.1" height="6.1" fill="#8FB032"/>
<rect x="649.9" y="34.4" width="5.2" height="5.2" fill="#8FB032"/>
<rect x="651" y="32.8" width="5.2" height="5.2" fill="#8FB032"/>
<rect x="652.6" y="31.6" width="5.2" height="5.2" fill="#8FB032"/>
<rect x="654.4" y="30.7" width="5.2" height="5.2" fill="#8FB032"/>
<rect x="656.3" y="29.9" width="5.2" height="5.2" fill="#8FB032"/>
<rect x="658.2" y="29.4" width="5.2" height="5.2" fill="#8FB032"/>
<rect x="660.2" y="29" width="5.2" height="5.2" fill="#8FB032"/>
<rect x="662.2" y="28.7" width="5.2" height="5.2" fill="#8FB032"/>
<rect x="664.2" y="28.4" width="5.2" height="5.2" fill="#8FB032"/>
<rect x="666.2" y="28.1" width="5.2" height="5.2" fill="#8FB032"/>
<rect x="668.2" y="27.9" width="5.2" height="5.2" fill="#8FB032"/>
<rect x="670.2" y="27.7" width="5.2" height="5.2" fill="#8FB032"/>
<rect x="672.2" y="27.5" width="5.2" height="5.2" fill="#8FB032"/>
<rect x="674.2" y="27.3" width="5.2" height="5.2" fill="#8FB032"/>
<rect x="676.2" y="27.1" width="5.2" height="5.2" fill="#8FB032"/>
<rect x="678.2" y="26.9" width="5.2" height="5.2" fill="#8FB032"/>
<rect x="680.2" y="26.8" width="5.2" height="5.2" fill="#8FB032"/>
<rect x="682.2" y="26.6" width="5.2" height="5.2" fill="#8FB032"/>
<rect x="684.2" y="26.4" width="5.2" height="5.2" fill="#8FB032"/>
<rect x="686.2" y="26.2" width="5.2" height="5.2" fill="#8FB032"/>
<rect x="688.2" y="26" width="5.2" height="5.2" fill="#8FB032"/>
<rect x="690.2" y="25.9" width="5.2" height="5.2" fill="#8FB032"/>
<rect x="692.2" y="25.7" width="5.2" height="5.2" fill="#8FB032"/>
<rect x="694.2" y="25.5" width="5.2" height="5.2" fill="#8FB032"/>
<rect x="696.3" y="25.4" width="5.2" height="5.2" fill="#8FB032"/>
<rect x="698.3" y="25.2" width="5.2" height="5.2" fill="#8FB032"/>
<rect x="700.3" y="25.1" width="5.2" height="5.2" fill="#8FB032"/>
<rect x="702.3" y="25" width="5.2" height="5.2" fill="#8FB032"/>
<rect x="704.3" y="24.9" width="5.2" height="5.2" fill="#8FB032"/>
<rect x="706.3" y="24.8" width="5.2" height="5.2" fill="#8FB032"/>
<rect x="708.3" y="24.8" width="5.2" height="5.2" fill="#8FB032"/>
<rect x="710.3" y="24.7" width="5.2" height="5.2" fill="#8FB032"/>
<rect x="712.4" y="24.7" width="5.2" height="5.2" fill="#8FB032"/>
<rect x="714.4" y="24.7" width="5.2" height="5.2" fill="#8FB032"/>
<rect x="716.4" y="24.7" width="5.2" height="5.2" fill="#8FB032"/>
<rect x="718.4" y="24.6" width="5.2" height="5.2" fill="#8FB032"/>
<rect x="795.1" y="63" width="6.1" height="6.1" fill="#8FB032"/>
<rect x="771.7" y="61.8" width="6.1" height="6.1" fill="#8FB032"/>
<rect x="759.7" y="60.9" width="6.1" height="6.1" fill="#8FB032"/>
<rect x="749" y="60.1" width="6.1" height="6.1" fill="#8FB032"/>
<rect x="739.5" y="59.5" width="6.1" height="6.1" fill="#8FB032"/>
<rect x="731" y="58.6" width="6.1" height="6.1" fill="#8FB032"/>
<rect x="723" y="57.5" width="6.1" height="6.1" fill="#8FB032"/>
<rect x="715.8" y="56.6" width="6.1" height="6.1" fill="#8FB032"/>
<rect x="709.9" y="56.1" width="6.1" height="6.1" fill="#8FB032"/>
<rect x="704.2" y="55.5" width="6.1" height="6.1" fill="#8FB032"/>
<rect x="649.9" y="37.2" width="5.2" height="5.2" fill="#8FB032"/>
<rect x="651.1" y="38.8" width="5.2" height="5.2" fill="#8FB032"/>
<rect x="652.8" y="39.9" width="5.2" height="5.2" fill="#8FB032"/>
<rect x="654.4" y="40.9" width="5.2" height="5.2" fill="#8FB032"/>
<rect x="656.1" y="42" width="5.2" height="5.2" fill="#8FB032"/>
<rect x="657.8" y="43" width="5.2" height="5.2" fill="#8FB032"/>
<rect x="659.6" y="43.9" width="5.2" height="5.2" fill="#8FB032"/>
<rect x="661.4" y="44.8" width="5.2" height="5.2" fill="#8FB032"/>
<rect x="663.2" y="45.6" width="5.2" height="5.2" fill="#8FB032"/>
<rect x="665.1" y="46.3" width="5.2" height="5.2" fill="#8FB032"/>
<rect x="666.9" y="47.1" width="5.2" height="5.2" fill="#8FB032"/>
<rect x="668.8" y="47.8" width="5.2" height="5.2" fill="#8FB032"/>
<rect x="670.6" y="48.5" width="5.2" height="5.2" fill="#8FB032"/>
<rect x="672.5" y="49.2" width="5.2" height="5.2" fill="#8FB032"/>
<rect x="674.4" y="49.8" width="5.2" height="5.2" fill="#8FB032"/>
<rect x="676.3" y="50.5" width="5.2" height="5.2" fill="#8FB032"/>
<rect x="678.2" y="51.1" width="5.2" height="5.2" fill="#8FB032"/>
<rect x="680.1" y="51.6" width="5.2" height="5.2" fill="#8FB032"/>
<rect x="682" y="52.2" width="5.2" height="5.2" fill="#8FB032"/>
<rect x="683.9" y="52.7" width="5.2" height="5.2" fill="#8FB032"/>
<rect x="685.8" y="53.2" width="5.2" height="5.2" fill="#8FB032"/>
<rect x="687.8" y="53.6" width="5.2" height="5.2" fill="#8FB032"/>
<rect x="689.7" y="54" width="5.2" height="5.2" fill="#8FB032"/>
<rect x="691.7" y="54.3" width="5.2" height="5.2" fill="#8FB032"/>
<rect x="693.7" y="54.5" width="5.2" height="5.2" fill="#8FB032"/>
<rect x="695.7" y="54.8" width="5.2" height="5.2" fill="#8FB032"/>
<rect x="697.6" y="55.1" width="5.2" height="5.2" fill="#8FB032"/>
<rect x="699.6" y="55.3" width="5.2" height="5.2" fill="#8FB032"/>
<rect x="649.4" y="35.9" width="5.2" height="5.2" fill="#8FB032"/>
<text class="t" x="618.3" y="12.7">A1−CWPr: <tspan font-style="italic">M</tspan>=16, <tspan font-style="italic">R</tspan>=1.5, <tspan font-style="italic">q</tspan>=2</text>
<rect x="628" y="178.1" width="15.2" height="1.9" fill="#5E81B5"/>
<path d="M635.6 175.7L639.1 181.6L632.1 181.6Z" fill="#5E81B5" stroke="#5E81B5" stroke-width="0.8" stroke-linejoin="round"/>
<text class="l" x="649.3" y="181.1">1</text>
<rect x="664" y="178.1" width="15.2" height="1.9" fill="#E19C24"/>
<polygon points="667.8,177.8 670.8,174.8 672.4,174.8 675.4,177.8 675.4,179.5 672.4,182.5 670.8,182.5 667.8,179.5" fill="#E19C24"/>
<text class="l" x="684.4" y="181.1">2</text>
<rect x="700.4" y="178.1" width="15.2" height="1.9" fill="#8FB032"/>
<rect x="705.3" y="176" width="5.8" height="5.8" fill="#8FB032"/>
<text class="l" x="721.2" y="181.1">4</text>
<rect x="736.2" y="178.1" width="15.2" height="1.9" fill="#EB6235"/>
<polygon points="741.3,178.3 743.4,176.2 744.6,176.2 746.7,178.3 746.7,179.4 744.6,181.6 743.4,181.6 741.3,179.4" fill="#EB6235"/>
<text class="l" transform="translate(758.3 181.2) scale(1.06 0.86)" x="0" y="0">∞</text>
<polygon points="32,226 232.5,226 232.5,227 231,227 229.5,227 227.9,227 226.4,227 224.9,227 223.4,227.1 221.8,227.1 220.3,227.1 218.8,227.1 217.3,227.1 215.8,227.1 214.2,227.1 212.7,227.2 211.2,227.2 209.7,227.2 208.1,227.2 206.6,227.2 205.1,227.2 203.6,227.3 202.1,227.3 200.5,227.3 199,227.3 197.5,227.3 196,227.3 194.4,227.4 192.9,227.4 191.4,227.4 189.9,227.4 188.4,227.5 186.8,227.5 185.3,227.5 183.8,227.5 182.3,227.5 180.7,227.6 179.2,227.6 177.7,227.6 176.2,227.6 174.7,227.7 173.1,227.7 171.6,227.7 170.1,227.8 168.6,227.8 167,227.8 165.5,227.9 164,227.9 162.5,227.9 161,228 159.4,228 157.9,228.1 156.4,228.1 154.9,228.2 153.3,228.2 151.8,228.3 150.3,228.3 148.8,228.4 147.3,228.5 145.7,228.5 144.2,228.6 142.7,228.7 141.2,228.8 139.6,228.8 138.1,228.9 136.6,229 135.1,229.1 133.6,229.2 132,229.3 130.5,229.4 129,229.5 127.5,229.6 126,229.7 124.4,229.8 122.9,229.9 121.4,230.1 119.9,230.2 118.3,230.3 116.8,230.5 115.3,230.6 113.8,230.7 112.3,230.9 110.7,231 109.2,231.1 107.7,231.3 106.2,231.4 104.6,231.5 103.1,231.6 101.6,231.7 100.1,231.9 98.6,232 97,232.1 95.5,232.3 94,232.4 92.5,232.5 90.9,232.7 89.4,232.8 87.9,233 86.4,233.2 84.9,233.4 83.3,233.6 81.8,233.8 80.3,234 78.8,234.3 77.2,234.6 75.7,235 74.2,235.5 72.7,236 71.2,236.4 69.6,236.9 68.1,237.3 66.6,237.7 65.1,238.1 63.5,238.4 62,238.7 60.5,239.1 59,239.4 57.5,239.8 55.9,240.3 54.4,240.8 52.9,241.4 51.4,242 49.8,242.6 48.3,243.3 46.8,244 45.3,244.9 43.8,245.9 42.2,247.3 40.7,248.9 39.2,250.6 37.7,251.8 36.1,252.7 34.6,254.1 33.1,256.5 33.1,278.9 34.6,282.8 36.1,285.8 37.7,288.2 39.2,290.3 40.7,292.2 42.2,294 43.8,295.6 45.3,297.2 46.8,298.7 48.3,300.2 49.8,301.6 51.4,302.9 52.9,304.2 54.4,305.3 55.9,306.3 57.5,307.2 59,308.1 60.5,309 62,309.8 63.5,310.6 65.1,311.5 66.6,312.3 68.1,313.2 69.6,314.1 71.2,314.9 72.7,315.7 74.2,316.5 75.7,317.3 77.2,317.9 78.8,318.6 80.3,319.1 81.8,319.7 83.3,320.3 84.9,320.8 86.4,321.3 87.9,321.8 89.4,322.3 90.9,322.7 92.5,323.2 94,323.6 95.5,324.1 97,324.5 98.6,324.9 100.1,325.3 101.6,325.7 103.1,326 104.6,326.4 106.2,326.7 107.7,327.1 109.2,327.4 110.7,327.7 112.3,328 113.8,328.3 115.3,328.6 116.8,328.9 118.3,329.2 119.9,329.5 121.4,329.7 122.9,330 124.4,330.3 126,330.5 127.5,330.8 129,331 130.5,331.3 132,331.5 133.6,331.8 135.1,332 136.6,332.2 138.1,332.5 139.6,332.7 141.2,332.9 142.7,333.2 144.2,333.4 145.7,333.7 147.3,333.9 148.8,334.2 150.3,334.4 151.8,334.6 153.3,334.9 154.9,335.1 156.4,335.3 157.9,335.5 159.4,335.7 161,335.9 162.5,336.1 164,336.2 165.5,336.4 167,336.6 168.6,336.7 170.1,336.9 171.6,337 173.1,337.2 174.7,337.3 176.2,337.4 177.7,337.6 179.2,337.7 180.7,337.8 182.3,337.9 183.8,338 185.3,338.1 186.8,338.2 188.4,338.3 189.9,338.4 191.4,338.5 192.9,338.6 194.4,338.7 196,338.8 197.5,338.9 199,339 200.5,339.2 202.1,339.3 203.6,339.5 205.1,339.6 206.6,339.7 208.1,339.9 209.7,340 211.2,340.1 212.7,340.2 214.2,340.2 215.8,340.3 217.3,340.3 218.8,340.4 220.3,340.4 221.8,340.4 223.4,340.4 224.9,340.4 226.4,340.4 227.9,340.3 229.5,339.9 231,339.5 232.5,339 232.5,345.8 32,345.8" fill="#EB6235" shape-rendering="crispEdges"/>
<rect x="32" y="346.9" width="200.5" height="1.1" fill="#EB6235"/>
<rect x="38.3" y="344.6" width="0.9" height="1.6" fill="#000" fill-opacity="0.5"/>
<rect x="59.5" y="344.6" width="0.9" height="1.6" fill="#000" fill-opacity="0.5"/>
<rect x="80.2" y="344.6" width="0.9" height="1.6" fill="#000" fill-opacity="0.5"/>
<rect x="97.5" y="344.6" width="0.9" height="1.6" fill="#000" fill-opacity="0.5"/>
<rect x="113.5" y="344.6" width="0.9" height="1.6" fill="#000" fill-opacity="0.5"/>
<rect x="128" y="344.6" width="0.9" height="1.6" fill="#000" fill-opacity="0.5"/>
<rect x="141.2" y="344.6" width="0.9" height="1.6" fill="#000" fill-opacity="0.5"/>
<rect x="153.8" y="344.6" width="0.9" height="1.6" fill="#000" fill-opacity="0.5"/>
<rect x="164.4" y="344.6" width="0.9" height="1.6" fill="#000" fill-opacity="0.5"/>
<rect x="173.9" y="344.6" width="0.9" height="1.6" fill="#000" fill-opacity="0.5"/>
<rect x="183" y="344.6" width="0.9" height="1.6" fill="#000" fill-opacity="0.5"/>
<rect x="191.6" y="344.6" width="0.9" height="1.6" fill="#000" fill-opacity="0.5"/>
<rect x="199.6" y="344.6" width="0.9" height="1.6" fill="#000" fill-opacity="0.5"/>
<rect x="206.8" y="344.6" width="0.9" height="1.6" fill="#000" fill-opacity="0.5"/>
<rect x="213.5" y="344.6" width="0.9" height="1.6" fill="#000" fill-opacity="0.5"/>
<rect x="219.6" y="344.6" width="0.9" height="1.6" fill="#000" fill-opacity="0.5"/>
<rect x="225.4" y="344.6" width="0.9" height="1.6" fill="#000" fill-opacity="0.5"/>
<rect x="230.2" y="344.6" width="0.9" height="1.6" fill="#000" fill-opacity="0.5"/>
<polyline points="232.5,227 231,227 229.5,227 227.9,227 226.4,227 224.9,227 223.4,227.1 221.8,227.1 220.3,227.1 218.8,227.1 217.3,227.1 215.8,227.1 214.2,227.1 212.7,227.2 211.2,227.2 209.7,227.2 208.1,227.2 206.6,227.2 205.1,227.2 203.6,227.3 202.1,227.3 200.5,227.3 199,227.3 197.5,227.3 196,227.3 194.4,227.4 192.9,227.4 191.4,227.4 189.9,227.4 188.4,227.5 186.8,227.5 185.3,227.5 183.8,227.5 182.3,227.5 180.7,227.6 179.2,227.6 177.7,227.6 176.2,227.6 174.7,227.7 173.1,227.7 171.6,227.7 170.1,227.8 168.6,227.8 167,227.8 165.5,227.9 164,227.9 162.5,227.9 161,228 159.4,228 157.9,228.1 156.4,228.1 154.9,228.2 153.3,228.2 151.8,228.3 150.3,228.3 148.8,228.4 147.3,228.5 145.7,228.5 144.2,228.6 142.7,228.7 141.2,228.8 139.6,228.8 138.1,228.9 136.6,229 135.1,229.1 133.6,229.2 132,229.3 130.5,229.4 129,229.5 127.5,229.6 126,229.7 124.4,229.8 122.9,229.9 121.4,230.1 119.9,230.2 118.3,230.3 116.8,230.5 115.3,230.6 113.8,230.7 112.3,230.9 110.7,231 109.2,231.1 107.7,231.3 106.2,231.4 104.6,231.5 103.1,231.6 101.6,231.7 100.1,231.9 98.6,232 97,232.1 95.5,232.3 94,232.4 92.5,232.5 90.9,232.7 89.4,232.8 87.9,233 86.4,233.2 84.9,233.4 83.3,233.6 81.8,233.8 80.3,234 78.8,234.3 77.2,234.6 75.7,235 74.2,235.5 72.7,236 71.2,236.4 69.6,236.9 68.1,237.3 66.6,237.7 65.1,238.1 63.5,238.4 62,238.7 60.5,239.1 59,239.4 57.5,239.8 55.9,240.3 54.4,240.8 52.9,241.4 51.4,242 49.8,242.6 48.3,243.3 46.8,244 45.3,244.9 43.8,245.9 42.2,247.3 40.7,248.9 39.2,250.6 37.7,251.8 36.1,252.7 34.6,254.1 33.1,256.5 33.1,278.9 34.6,282.8 36.1,285.8 37.7,288.2 39.2,290.3 40.7,292.2 42.2,294 43.8,295.6 45.3,297.2 46.8,298.7 48.3,300.2 49.8,301.6 51.4,302.9 52.9,304.2 54.4,305.3 55.9,306.3 57.5,307.2 59,308.1 60.5,309 62,309.8 63.5,310.6 65.1,311.5 66.6,312.3 68.1,313.2 69.6,314.1 71.2,314.9 72.7,315.7 74.2,316.5 75.7,317.3 77.2,317.9 78.8,318.6 80.3,319.1 81.8,319.7 83.3,320.3 84.9,320.8 86.4,321.3 87.9,321.8 89.4,322.3 90.9,322.7 92.5,323.2 94,323.6 95.5,324.1 97,324.5 98.6,324.9 100.1,325.3 101.6,325.7 103.1,326 104.6,326.4 106.2,326.7 107.7,327.1 109.2,327.4 110.7,327.7 112.3,328 113.8,328.3 115.3,328.6 116.8,328.9 118.3,329.2 119.9,329.5 121.4,329.7 122.9,330 124.4,330.3 126,330.5 127.5,330.8 129,331 130.5,331.3 132,331.5 133.6,331.8 135.1,332 136.6,332.2 138.1,332.5 139.6,332.7 141.2,332.9 142.7,333.2 144.2,333.4 145.7,333.7 147.3,333.9 148.8,334.2 150.3,334.4 151.8,334.6 153.3,334.9 154.9,335.1 156.4,335.3 157.9,335.5 159.4,335.7 161,335.9 162.5,336.1 164,336.2 165.5,336.4 167,336.6 168.6,336.7 170.1,336.9 171.6,337 173.1,337.2 174.7,337.3 176.2,337.4 177.7,337.6 179.2,337.7 180.7,337.8 182.3,337.9 183.8,338 185.3,338.1 186.8,338.2 188.4,338.3 189.9,338.4 191.4,338.5 192.9,338.6 194.4,338.7 196,338.8 197.5,338.9 199,339 200.5,339.2 202.1,339.3 203.6,339.5 205.1,339.6 206.6,339.7 208.1,339.9 209.7,340 211.2,340.1 212.7,340.2 214.2,340.2 215.8,340.3 217.3,340.3 218.8,340.4 220.3,340.4 221.8,340.4 223.4,340.4 224.9,340.4 226.4,340.4 227.9,340.3 229.5,339.9 231,339.5 232.5,339" fill="none" stroke="#EB6235" stroke-width="2.1" stroke-linejoin="round"/>
<polyline points="232.5,226.7 231.5,226.7 230.5,226.7 229.5,226.7 228.5,226.7 227.5,226.7 226.5,226.7 225.5,226.7 224.4,226.7 223.4,226.7 222.4,226.7 221.4,226.7 220.4,226.7 219.4,226.7 218.4,226.7 217.4,226.7 216.4,226.7 215.4,226.7 214.4,226.7 213.4,226.7 212.4,226.7 211.4,226.7 210.4,226.7 209.4,226.7 208.3,226.7 207.3,226.7 206.3,226.7 205.3,226.7 204.3,226.7 203.3,226.7 202.3,226.7 201.3,226.7 200.3,226.7 199.3,226.7 198.3,226.7 197.3,226.7 196.3,226.7 195.3,226.7 194.3,226.7 193.2,226.8 192.2,226.8 191.2,226.8 190.2,226.8 189.2,226.8 188.2,226.8 187.2,226.8 186.2,226.8 185.2,226.8 184.2,226.8 183.2,226.8 182.2,226.8 181.2,226.8 180.2,226.8 179.2,226.8 178.2,226.8 177.1,226.8 176.1,226.8 175.1,226.8 174.1,226.8 173.1,226.8 172.1,226.8 171.1,226.8 170.1,226.8 169.1,226.8 168.1,226.8 167.1,226.8 166.1,226.9 165.1,226.9 164.1,226.9 163.1,226.9 162,226.9 161,226.9 160,226.9 159,226.9 158,226.9 157,226.9 156,226.9 155,226.9 154,226.9 153,226.9 152,226.9 151,226.9 150,226.9 149,226.9 148,226.9 146.9,227 145.9,227 144.9,227 143.9,227 142.9,227 141.9,227 140.9,227 139.9,227 138.9,227 137.9,227 136.9,227 135.9,227 134.9,227.1 133.9,227.1 132.9,227.1 131.9,227.1 130.8,227.1 129.8,227.2 128.8,227.2 127.8,227.2 126.8,227.2 125.8,227.3 124.8,227.3 123.8,227.3 122.8,227.3 121.8,227.4 120.8,227.4 119.8,227.4 118.8,227.5 117.8,227.5 116.8,227.5 115.7,227.6 114.7,227.6 113.7,227.7 112.7,227.7 111.7,227.7 110.7,227.8 109.7,227.8 108.7,227.9 107.7,227.9 106.7,228 105.7,228 104.7,228.1 103.7,228.1 102.7,228.2 101.7,228.3 100.7,228.3 99.6,228.4 98.6,228.5 97.6,228.6 96.6,228.7 95.6,228.8 94.6,228.9 93.6,229 92.6,229.1 91.6,229.3 90.6,229.4 89.6,229.6 88.6,229.7 87.6,229.9 86.6,230 85.6,230.1 84.5,230.2 83.5,230.3 82.5,230.5 81.5,230.6 80.5,230.8 79.5,230.9 78.5,231.1 77.5,231.3 76.5,231.6 75.5,231.8 74.5,232.1 73.5,232.4 72.5,232.7 71.5,233 70.5,233.4 69.5,233.8 68.4,234.2 67.4,234.7 66.4,235.1 65.4,235.5 64.4,235.8 63.4,236.4 62.4,237.3 61.4,242.3 61.4,242.3 62.4,247.9 63.4,249.7 64.4,250.9 65.4,251.7 66.4,252.4 67.4,253.2 68.4,253.9 69.5,254.5 70.5,255.1 71.5,255.7 72.5,256.2 73.5,256.8 74.5,257.5 75.5,258.1 76.5,258.8 77.5,259.4 78.5,260 79.5,260.5 80.5,261 81.5,261.5 82.5,261.9 83.5,262.3 84.5,262.7 85.6,263.1 86.6,263.5 87.6,263.9 88.6,264.2 89.6,264.6 90.6,265 91.6,265.3 92.6,265.6 93.6,266 94.6,266.3 95.6,266.6 96.6,266.9 97.6,267.3 98.6,267.6 99.6,268 100.7,268.3 101.7,268.6 102.7,268.9 103.7,269.3 104.7,269.5 105.7,269.8 106.7,270.1 107.7,270.3 108.7,270.6 109.7,270.8 110.7,271.1 111.7,271.3 112.7,271.5 113.7,271.7 114.7,271.9 115.7,272.1 116.8,272.3 117.8,272.5 118.8,272.7 119.8,272.9 120.8,273.1 121.8,273.3 122.8,273.5 123.8,273.7 124.8,273.8 125.8,274 126.8,274.2 127.8,274.4 128.8,274.5 129.8,274.7 130.8,274.8 131.9,275 132.9,275.2 133.9,275.3 134.9,275.5 135.9,275.7 136.9,275.8 137.9,276 138.9,276.1 139.9,276.3 140.9,276.4 141.9,276.6 142.9,276.7 143.9,276.9 144.9,277.1 145.9,277.2 146.9,277.4 148,277.6 149,277.7 150,277.8 151,278 152,278.1 153,278.2 154,278.2 155,278.3 156,278.3 157,278.4 158,278.4 159,278.5 160,278.5 161,278.6 162,278.7 163.1,278.7 164.1,278.8 165.1,278.9 166.1,279 167.1,279.1 168.1,279.2 169.1,279.3 170.1,279.4 171.1,279.4 172.1,279.5 173.1,279.6 174.1,279.7 175.1,279.7 176.1,279.8 177.1,279.9 178.2,279.9 179.2,280 180.2,280 181.2,280.1 182.2,280.2 183.2,280.2 184.2,280.3 185.2,280.4 186.2,280.4 187.2,280.5 188.2,280.5 189.2,280.6 190.2,280.7 191.2,280.7 192.2,280.8 193.2,280.8 194.3,280.9 195.3,280.9 196.3,281 197.3,281.1 198.3,281.1 199.3,281.2 200.3,281.2 201.3,281.3 202.3,281.3 203.3,281.4 204.3,281.4 205.3,281.4 206.3,281.5 207.3,281.5 208.3,281.6 209.4,281.6 210.4,281.6 211.4,281.7 212.4,281.7 213.4,281.7 214.4,281.8 215.4,281.8 216.4,281.8 217.4,281.9 218.4,281.9 219.4,281.9 220.4,282 221.4,282 222.4,282.1 223.4,282.1 224.4,282.2 225.5,282.2 226.5,282.3 227.5,282.3 228.5,282.4 229.5,282.4 230.5,282.5 231.5,282.5 232.5,282.6" fill="none" stroke="#8FB032" stroke-width="2.1" stroke-linejoin="round"/>
<polyline points="232.5,226.6 231.5,226.6 230.5,226.6 229.5,226.6 228.4,226.6 227.4,226.6 226.4,226.6 225.4,226.6 224.4,226.6 223.4,226.6 222.3,226.6 221.3,226.6 220.3,226.6 219.3,226.6 218.3,226.6 217.3,226.6 216.2,226.6 215.2,226.6 214.2,226.6 213.2,226.6 212.2,226.6 211.2,226.6 210.1,226.6 209.1,226.6 208.1,226.6 207.1,226.6 206.1,226.6 205.1,226.6 204.1,226.6 203,226.6 202,226.6 201,226.6 200,226.6 199,226.6 198,226.6 196.9,226.7 195.9,226.7 194.9,226.7 193.9,226.7 192.9,226.7 191.9,226.7 190.8,226.7 189.8,226.7 188.8,226.7 187.8,226.7 186.8,226.7 185.8,226.7 184.7,226.7 183.7,226.7 182.7,226.7 181.7,226.7 180.7,226.7 179.7,226.7 178.7,226.7 177.6,226.7 176.6,226.7 175.6,226.7 174.6,226.7 173.6,226.7 172.6,226.7 171.5,226.7 170.5,226.7 169.5,226.7 168.5,226.7 167.5,226.7 166.5,226.7 165.4,226.8 164.4,226.8 163.4,226.8 162.4,226.8 161.4,226.8 160.4,226.8 159.3,226.8 158.3,226.8 157.3,226.8 156.3,226.8 155.3,226.8 154.3,226.8 153.2,226.8 152.2,226.8 151.2,226.8 150.2,226.8 149.2,226.9 148.2,226.9 147.2,226.9 146.1,226.9 145.1,226.9 144.1,226.9 143.1,226.9 142.1,227 141.1,227 140,227 139,227 138,227.1 137,227.1 136,227.2 135,227.2 133.9,227.3 132.9,227.3 131.9,227.4 130.9,227.5 129.9,227.6 128.9,227.7 127.8,227.9 126.8,228.1 125.8,228.6 124.8,229.4 124.8,229.4 125.8,230 126.8,230.5 127.9,230.9 128.9,231.3 129.9,231.6 130.9,231.8 131.9,232 132.9,232.2 134,232.4 135,232.5 136,232.7 137,232.8 138,232.9 139.1,233.1 140.1,233.2 141.1,233.3 142.1,233.4 143.1,233.6 144.1,233.7 145.2,233.8 146.2,234 147.2,234.1 148.2,234.3 149.2,234.4 150.3,234.6 151.3,234.7 152.3,234.9 153.3,235 154.3,235.2 155.3,235.3 156.4,235.4 157.4,235.5 158.4,235.6 159.4,235.7 160.4,235.8 161.5,235.9 162.5,236 163.5,236.1 164.5,236.2 165.5,236.2 166.5,236.3 167.6,236.4 168.6,236.4 169.6,236.5 170.6,236.5 171.6,236.6 172.7,236.7 173.7,236.7 174.7,236.8 175.7,236.8 176.7,236.9 177.7,236.9 178.8,237 179.8,237.1 180.8,237.1 181.8,237.2 182.8,237.2 183.8,237.3 184.9,237.3 185.9,237.4 186.9,237.4 187.9,237.5 188.9,237.5 190,237.6 191,237.6 192,237.7 193,237.7 194,237.7 195,237.7 196.1,237.8 197.1,237.8 198.1,237.8 199.1,237.9 200.1,237.9 201.2,237.9 202.2,237.9 203.2,237.9 204.2,238 205.2,238 206.2,238 207.3,238 208.3,238 209.3,238 210.3,238.1 211.3,238.1 212.4,238.1 213.4,238.1 214.4,238.1 215.4,238.1 216.4,238.1 217.4,238.2 218.5,238.2 219.5,238.2 220.5,238.2 221.5,238.2 222.5,238.2 223.6,238.2 224.6,238.2 225.6,238.3 226.6,238.3 227.6,238.3 228.6,238.3 229.7,238.3 230.7,238.3 231.7,238.3" fill="none" stroke="#E19C24" stroke-width="2.1" stroke-linejoin="round"/>
<polygon points="215.5,226.5 217.7,224.3 218.9,224.3 221.1,226.5 221.1,227.7 218.9,229.9 217.7,229.9 215.5,227.7" fill="#EB6235"/>
<polygon points="205,226.6 207.2,224.4 208.4,224.4 210.6,226.6 210.6,227.8 208.4,230 207.2,230 205,227.8" fill="#EB6235"/>
<polygon points="195.5,226.7 197.7,224.5 198.9,224.5 201.1,226.7 201.1,227.9 198.9,230.1 197.7,230.1 195.5,227.9" fill="#EB6235"/>
<polygon points="186.6,226.8 188.8,224.6 190,224.6 192.2,226.8 192.2,228.1 190,230.2 188.8,230.2 186.6,228.1" fill="#EB6235"/>
<polygon points="179.7,226.9 181.9,224.7 183.1,224.7 185.3,226.9 185.3,228.2 183.1,230.3 181.9,230.3 179.7,228.2" fill="#EB6235"/>
<polygon points="117.2,229.6 119.4,227.4 120.6,227.4 122.8,229.6 122.8,230.8 120.6,233 119.4,233 117.2,230.8" fill="#EB6235"/>
<polygon points="111.2,230.1 113.4,227.9 114.6,227.9 116.8,230.1 116.8,231.3 114.6,233.5 113.4,233.5 111.2,231.3" fill="#EB6235"/>
<polygon points="105.7,230.6 107.9,228.4 109.1,228.4 111.3,230.6 111.3,231.8 109.1,234 107.9,234 105.7,231.8" fill="#EB6235"/>
<polygon points="99.2,231.1 101.4,228.9 102.6,228.9 104.8,231.1 104.8,232.3 102.6,234.5 101.4,234.5 99.2,232.3" fill="#EB6235"/>
<polygon points="93.4,231.6 95.6,229.4 96.8,229.4 99,231.6 99,232.8 96.8,235 95.6,235 93.4,232.8" fill="#EB6235"/>
<polygon points="85.2,232.4 87.4,230.2 88.6,230.2 90.8,232.4 90.8,233.6 88.6,235.8 87.4,235.8 85.2,233.6" fill="#EB6235"/>
<polygon points="77.5,233.4 79.7,231.2 80.9,231.2 83.1,233.4 83.1,234.6 80.9,236.8 79.7,236.8 77.5,234.6" fill="#EB6235"/>
<polygon points="70.9,235 73.1,232.8 74.3,232.8 76.5,235 76.5,236.3 74.3,238.4 73.1,238.4 70.9,236.3" fill="#EB6235"/>
<polygon points="64.2,237 66.4,234.8 67.6,234.8 69.8,237 69.8,238.2 67.6,240.4 66.4,240.4 64.2,238.2" fill="#EB6235"/>
<polygon points="229.7,338.4 231.9,336.2 233.1,336.2 235.3,338.4 235.3,339.6 233.1,341.8 231.9,341.8 229.7,339.6" fill="#EB6235"/>
<polygon points="221,339.8 223.2,337.6 224.4,337.6 226.6,339.8 226.6,341.1 224.4,343.2 223.2,343.2 221,341.1" fill="#EB6235"/>
<polygon points="212.3,339.6 214.5,337.5 215.7,337.5 217.9,339.6 217.9,340.9 215.7,343.1 214.5,343.1 212.3,340.9" fill="#EB6235"/>
<polygon points="203.6,339.1 205.8,336.9 207,336.9 209.2,339.1 209.2,340.3 207,342.5 205.8,342.5 203.6,340.3" fill="#EB6235"/>
<polygon points="194.9,338.3 197.1,336.1 198.3,336.1 200.5,338.3 200.5,339.5 198.3,341.7 197.1,341.7 194.9,339.5" fill="#EB6235"/>
<polygon points="186.2,337.7 188.4,335.5 189.6,335.5 191.8,337.7 191.8,339 189.6,341.1 188.4,341.1 186.2,339" fill="#EB6235"/>
<polygon points="177.5,337.2 179.7,335 180.9,335 183.1,337.2 183.1,338.4 180.9,340.6 179.7,340.6 177.5,338.4" fill="#EB6235"/>
<polygon points="168.8,336.4 171,334.2 172.2,334.2 174.4,336.4 174.4,337.6 172.2,339.8 171,339.8 168.8,337.6" fill="#EB6235"/>
<polygon points="160.1,335.5 162.3,333.3 163.5,333.3 165.7,335.5 165.7,336.7 163.5,338.9 162.3,338.9 160.1,336.7" fill="#EB6235"/>
<polygon points="151.4,334.4 153.6,332.2 154.8,332.2 157,334.4 157,335.6 154.8,337.8 153.6,337.8 151.4,335.6" fill="#EB6235"/>
<polygon points="142.7,333 144.9,330.8 146.1,330.8 148.3,333 148.3,334.3 146.1,336.4 144.9,336.4 142.7,334.3" fill="#EB6235"/>
<polygon points="134,331.7 136.2,329.5 137.4,329.5 139.6,331.7 139.6,332.9 137.4,335.1 136.2,335.1 134,332.9" fill="#EB6235"/>
<polygon points="125.3,330.3 127.5,328.1 128.7,328.1 130.9,330.3 130.9,331.5 128.7,333.7 127.5,333.7 125.3,331.5" fill="#EB6235"/>
<circle cx="33.1" cy="256.5" r="2.3" fill="#EB6235"/>
<circle cx="33.1" cy="278.9" r="2.3" fill="#EB6235"/>
<rect x="58.9" y="234.9" width="6.1" height="6.1" fill="#8FB032"/>
<rect x="64" y="231.8" width="6.1" height="6.1" fill="#8FB032"/>
<rect x="70.7" y="229.2" width="6.1" height="6.1" fill="#8FB032"/>
<rect x="77.2" y="227.8" width="6.1" height="6.1" fill="#8FB032"/>
<rect x="85" y="226.8" width="6.1" height="6.1" fill="#8FB032"/>
<rect x="93.2" y="225.6" width="6.1" height="6.1" fill="#8FB032"/>
<rect x="101.1" y="225.3" width="5.6" height="5.6" fill="#8FB032"/>
<rect x="104.1" y="225.1" width="5.6" height="5.6" fill="#8FB032"/>
<rect x="107.1" y="225" width="5.6" height="5.6" fill="#8FB032"/>
<rect x="110.1" y="224.9" width="5.6" height="5.6" fill="#8FB032"/>
<rect x="113.1" y="224.8" width="5.6" height="5.6" fill="#8FB032"/>
<rect x="116.2" y="224.7" width="5.6" height="5.6" fill="#8FB032"/>
<rect x="119.2" y="224.6" width="5.6" height="5.6" fill="#8FB032"/>
<rect x="122.2" y="224.5" width="5.6" height="5.6" fill="#8FB032"/>
<rect x="125.2" y="224.4" width="5.6" height="5.6" fill="#8FB032"/>
<rect x="132.4" y="224" width="6.1" height="6.1" fill="#8FB032"/>
<rect x="140.2" y="223.9" width="6.1" height="6.1" fill="#8FB032"/>
<rect x="149.2" y="223.9" width="6.1" height="6.1" fill="#8FB032"/>
<rect x="158.1" y="223.8" width="6.1" height="6.1" fill="#8FB032"/>
<rect x="169.4" y="223.8" width="6.1" height="6.1" fill="#8FB032"/>
<rect x="182.9" y="223.7" width="6.1" height="6.1" fill="#8FB032"/>
<rect x="198.9" y="223.7" width="6.1" height="6.1" fill="#8FB032"/>
<rect x="209.8" y="223.7" width="6.1" height="6.1" fill="#8FB032"/>
<rect x="222.3" y="223.7" width="6.1" height="6.1" fill="#8FB032"/>
<rect x="228.8" y="223.7" width="6.1" height="6.1" fill="#8FB032"/>
<rect x="58.9" y="243.6" width="6.1" height="6.1" fill="#8FB032"/>
<rect x="64" y="249.8" width="6.1" height="6.1" fill="#8FB032"/>
<rect x="70" y="253.5" width="6.1" height="6.1" fill="#8FB032"/>
<rect x="76.9" y="257.6" width="6.1" height="6.1" fill="#8FB032"/>
<rect x="85" y="261" width="6.1" height="6.1" fill="#8FB032"/>
<rect x="92.9" y="263.7" width="6.1" height="6.1" fill="#8FB032"/>
<rect x="98.5" y="265.5" width="6.1" height="6.1" fill="#8FB032"/>
<rect x="101.2" y="266.4" width="6.1" height="6.1" fill="#8FB032"/>
<rect x="104" y="267.1" width="6.1" height="6.1" fill="#8FB032"/>
<rect x="106.8" y="267.8" width="6.1" height="6.1" fill="#8FB032"/>
<rect x="109.6" y="268.4" width="6.1" height="6.1" fill="#8FB032"/>
<rect x="112.4" y="269" width="6.1" height="6.1" fill="#8FB032"/>
<rect x="115.3" y="269.6" width="6.1" height="6.1" fill="#8FB032"/>
<rect x="118.1" y="270.1" width="6.1" height="6.1" fill="#8FB032"/>
<rect x="120.9" y="270.6" width="6.1" height="6.1" fill="#8FB032"/>
<rect x="123.8" y="271.1" width="6.1" height="6.1" fill="#8FB032"/>
<rect x="126.6" y="271.6" width="6.1" height="6.1" fill="#8FB032"/>
<rect x="129.4" y="272.1" width="6.1" height="6.1" fill="#8FB032"/>
<rect x="132.8" y="272.6" width="6.1" height="6.1" fill="#8FB032"/>
<rect x="140.4" y="273.8" width="6.1" height="6.1" fill="#8FB032"/>
<rect x="148.8" y="275" width="6.1" height="6.1" fill="#8FB032"/>
<rect x="157.5" y="275.5" width="6.1" height="6.1" fill="#8FB032"/>
<rect x="169.4" y="276.5" width="6.1" height="6.1" fill="#8FB032"/>
<rect x="182.9" y="277.3" width="6.1" height="6.1" fill="#8FB032"/>
<rect x="198.9" y="278.2" width="6.1" height="6.1" fill="#8FB032"/>
<rect x="222.3" y="279.1" width="6.1" height="6.1" fill="#8FB032"/>
<rect x="228.8" y="279.5" width="6.1" height="6.1" fill="#8FB032"/>
<polygon points="228,225.8 230.9,222.9 232.5,222.9 235.4,225.8 235.4,227.4 232.5,230.3 230.9,230.3 228,227.4" fill="#E19C24"/>
<polygon points="221.3,225.8 224.2,222.9 225.8,222.9 228.7,225.8 228.7,227.4 225.8,230.3 224.2,230.3 221.3,227.4" fill="#E19C24"/>
<polygon points="209.2,225.8 212.1,222.9 213.7,222.9 216.6,225.8 216.6,227.4 213.7,230.3 212.1,230.3 209.2,227.4" fill="#E19C24"/>
<polygon points="198.3,225.8 201.2,222.9 202.8,222.9 205.7,225.8 205.7,227.5 202.8,230.3 201.2,230.3 198.3,227.5" fill="#E19C24"/>
<polygon points="189.6,225.8 192.5,223 194.1,223 197,225.8 197,227.5 194.1,230.4 192.5,230.4 189.6,227.5" fill="#E19C24"/>
<polygon points="181.8,225.9 184.7,223 186.3,223 189.2,225.9 189.2,227.5 186.3,230.4 184.7,230.4 181.8,227.5" fill="#E19C24"/>
<polygon points="174.6,225.9 177.5,223 179.1,223 182,225.9 182,227.5 179.1,230.4 177.5,230.4 174.6,227.5" fill="#E19C24"/>
<polygon points="168.2,225.9 171.1,223 172.7,223 175.6,225.9 175.6,227.5 172.7,230.4 171.1,230.4 168.2,227.5" fill="#E19C24"/>
<polygon points="162.5,225.9 165.4,223 167,223 169.9,225.9 169.9,227.6 167,230.4 165.4,230.4 162.5,227.6" fill="#E19C24"/>
<polygon points="157.2,226 160.1,223.1 161.7,223.1 164.6,226 164.6,227.6 161.7,230.5 160.1,230.5 157.2,227.6" fill="#E19C24"/>
<polygon points="152.3,226 155.2,223.1 156.8,223.1 159.7,226 159.7,227.6 156.8,230.5 155.2,230.5 152.3,227.6" fill="#E19C24"/>
<polygon points="147.9,226 150.8,223.1 152.4,223.1 155.3,226 155.3,227.6 152.4,230.5 150.8,230.5 147.9,227.6" fill="#E19C24"/>
<polygon points="143.7,226.1 146.6,223.2 148.2,223.2 151.1,226.1 151.1,227.7 148.2,230.6 146.6,230.6 143.7,227.7" fill="#E19C24"/>
<polygon points="124.3,227 127.2,224.2 128.8,224.2 131.7,227 131.7,228.7 128.8,231.6 127.2,231.6 124.3,228.7" fill="#E19C24"/>
<polygon points="127.4,226.7 130.3,223.8 131.9,223.8 134.8,226.7 134.8,228.3 131.9,231.2 130.3,231.2 127.4,228.3" fill="#E19C24"/>
<polygon points="130.5,226.5 133.4,223.6 135,223.6 137.9,226.5 137.9,228.1 135,231 133.4,231 130.5,228.1" fill="#E19C24"/>
<polygon points="133.6,226.3 136.5,223.4 138.1,223.4 141,226.3 141,227.9 138.1,230.8 136.5,230.8 133.6,227.9" fill="#E19C24"/>
<polygon points="136.7,226.2 139.6,223.3 141.2,223.3 144.1,226.2 144.1,227.8 141.2,230.7 139.6,230.7 136.7,227.8" fill="#E19C24"/>
<polygon points="139.8,226.1 142.7,223.2 144.3,223.2 147.2,226.1 147.2,227.7 144.3,230.6 142.7,230.6 139.8,227.7" fill="#E19C24"/>
<polygon points="228,237.5 230.9,234.6 232.5,234.6 235.4,237.5 235.4,239.1 232.5,242 230.9,242 228,239.1" fill="#E19C24"/>
<polygon points="221.3,237.4 224.2,234.5 225.8,234.5 228.7,237.4 228.7,239.1 225.8,241.9 224.2,241.9 221.3,239.1" fill="#E19C24"/>
<polygon points="209.2,237.3 212.1,234.4 213.7,234.4 216.6,237.3 216.6,238.9 213.7,241.8 212.1,241.8 209.2,238.9" fill="#E19C24"/>
<polygon points="198.3,237.1 201.2,234.2 202.8,234.2 205.7,237.1 205.7,238.7 202.8,241.6 201.2,241.6 198.3,238.7" fill="#E19C24"/>
<polygon points="189.6,236.9 192.5,234 194.1,234 197,236.9 197,238.5 194.1,241.4 192.5,241.4 189.6,238.5" fill="#E19C24"/>
<polygon points="181.8,236.6 184.7,233.7 186.3,233.7 189.2,236.6 189.2,238.2 186.3,241.1 184.7,241.1 181.8,238.2" fill="#E19C24"/>
<polygon points="174.6,236.2 177.5,233.3 179.1,233.3 182,236.2 182,237.8 179.1,240.7 177.5,240.7 174.6,237.8" fill="#E19C24"/>
<polygon points="168.2,235.8 171.1,232.9 172.7,232.9 175.6,235.8 175.6,237.4 172.7,240.3 171.1,240.3 168.2,237.4" fill="#E19C24"/>
<polygon points="162.5,235.5 165.4,232.6 167,232.6 169.9,235.5 169.9,237.1 167,240 165.4,240 162.5,237.1" fill="#E19C24"/>
<polygon points="157.2,235.1 160.1,232.2 161.7,232.2 164.6,235.1 164.6,236.7 161.7,239.6 160.1,239.6 157.2,236.7" fill="#E19C24"/>
<polygon points="152.3,234.6 155.2,231.7 156.8,231.7 159.7,234.6 159.7,236.2 156.8,239.1 155.2,239.1 152.3,236.2" fill="#E19C24"/>
<polygon points="147.9,234 150.8,231.1 152.4,231.1 155.3,234 155.3,235.6 152.4,238.5 150.8,238.5 147.9,235.6" fill="#E19C24"/>
<polygon points="143.7,233.3 146.6,230.4 148.2,230.4 151.1,233.3 151.1,235 148.2,237.8 146.6,237.8 143.7,235" fill="#E19C24"/>
<polygon points="124.8,230.4 127.7,227.5 129.3,227.5 132.2,230.4 132.2,232 129.3,234.9 127.7,234.9 124.8,232" fill="#E19C24"/>
<polygon points="127.8,231.1 130.6,228.2 132.3,228.2 135.2,231.1 135.2,232.7 132.3,235.6 130.6,235.6 127.8,232.7" fill="#E19C24"/>
<polygon points="130.7,231.6 133.6,228.7 135.3,228.7 138.1,231.6 138.1,233.2 135.3,236.1 133.6,236.1 130.7,233.2" fill="#E19C24"/>
<polygon points="133.8,232 136.6,229.2 138.3,229.2 141.2,232 141.2,233.7 138.3,236.6 136.6,236.6 133.8,233.7" fill="#E19C24"/>
<polygon points="136.8,232.4 139.7,229.5 141.3,229.5 144.2,232.4 144.2,234 141.3,236.9 139.7,236.9 136.8,234" fill="#E19C24"/>
<polygon points="139.8,232.8 142.7,229.9 144.3,229.9 147.2,232.8 147.2,234.4 144.3,237.3 142.7,237.3 139.8,234.4" fill="#E19C24"/>
<polygon points="121.1,228.6 124,225.7 125.6,225.7 128.5,228.6 128.5,230.2 125.6,233.1 124,233.1 121.1,230.2" fill="#E19C24"/>
<text class="t" x="56.8" y="211.8">A1−CWPr: <tspan font-style="italic">M</tspan>=16, <tspan font-style="italic">R</tspan>=2, <tspan font-style="italic">q</tspan>=2</text>
<rect x="62" y="378.2" width="15.2" height="1.9" fill="#5E81B5"/>
<path d="M69.6 375.7L73.1 381.6L66.1 381.6Z" fill="#5E81B5" stroke="#5E81B5" stroke-width="0.8" stroke-linejoin="round"/>
<text class="l" x="83.3" y="380.9">1</text>
<rect x="98" y="378.2" width="15.2" height="1.9" fill="#E19C24"/>
<polygon points="101.8,377.9 104.8,374.9 106.4,374.9 109.4,377.9 109.4,379.5 106.4,382.5 104.8,382.5 101.8,379.5" fill="#E19C24"/>
<text class="l" x="118.4" y="380.9">2</text>
<rect x="134.4" y="378.2" width="15.2" height="1.9" fill="#8FB032"/>
<rect x="139.3" y="376" width="5.8" height="5.8" fill="#8FB032"/>
<text class="l" x="155.2" y="380.9">4</text>
<rect x="170.2" y="378.2" width="15.2" height="1.9" fill="#EB6235"/>
<polygon points="175.3,378.3 177.4,376.2 178.6,376.2 180.7,378.3 180.7,379.5 178.6,381.6 177.4,381.6 175.3,379.5" fill="#EB6235"/>
<text class="l" transform="translate(192.3 381) scale(1.06 0.86)" x="0" y="0">∞</text>
<polygon points="315,226 515.7,226 515.7,227 514.2,227 512.7,227 511.2,227 509.7,227.1 508.1,227.1 506.6,227.1 505.1,227.1 503.6,227.1 502.1,227.2 500.6,227.2 499.1,227.2 497.6,227.2 496,227.2 494.5,227.3 493,227.3 491.5,227.3 490,227.3 488.5,227.3 487,227.4 485.5,227.4 483.9,227.4 482.4,227.4 480.9,227.4 479.4,227.5 477.9,227.5 476.4,227.5 474.9,227.5 473.4,227.6 471.8,227.6 470.3,227.6 468.8,227.6 467.3,227.7 465.8,227.7 464.3,227.7 462.8,227.7 461.3,227.8 459.8,227.8 458.2,227.8 456.7,227.9 455.2,227.9 453.7,227.9 452.2,228 450.7,228 449.2,228 447.7,228.1 446.1,228.1 444.6,228.1 443.1,228.2 441.6,228.2 440.1,228.2 438.6,228.3 437.1,228.3 435.6,228.4 434,228.4 432.5,228.4 431,228.5 429.5,228.5 428,228.6 426.5,228.6 425,228.7 423.5,228.7 421.9,228.8 420.4,228.8 418.9,228.9 417.4,228.9 415.9,229 414.4,229 412.9,229.1 411.4,229.1 409.9,229.2 408.3,229.3 406.8,229.3 405.3,229.4 403.8,229.5 402.3,229.5 400.8,229.6 399.3,229.7 397.8,229.8 396.2,229.8 394.7,229.9 393.2,230 391.7,230.1 390.2,230.2 388.7,230.3 387.2,230.4 385.7,230.5 384.1,230.6 382.6,230.7 381.1,230.9 379.6,231 378.1,231.1 376.6,231.3 375.1,231.4 373.6,231.5 372,231.7 370.5,231.9 369,232 367.5,232.2 366,232.4 364.5,232.5 363,232.7 361.5,232.9 360,233.2 358.4,233.4 356.9,233.7 355.4,234 353.9,234.4 352.4,234.8 350.9,235.2 349.4,235.7 347.9,236.2 346.3,236.7 344.8,237.2 343.3,237.7 341.8,238.2 340.3,238.7 338.8,239.3 337.3,240 335.8,240.7 334.2,241.5 332.7,242.4 331.2,243.2 329.7,244.2 328.2,245.2 326.7,246.3 325.2,247.5 323.7,248.8 322.1,250.2 320.6,252 319.1,255.3 317.6,257.7 316.1,258.3 316.1,271.7 317.6,276.1 319.1,279.8 320.6,282.9 322.1,285.7 323.7,288.2 325.2,290.6 326.7,292.9 328.2,295 329.7,297.1 331.2,299.1 332.7,300.8 334.2,302.4 335.8,303.9 337.3,305.2 338.8,306.4 340.3,307.4 341.8,308.4 343.3,309.4 344.8,310.4 346.3,311.4 347.9,312.3 349.4,313.2 350.9,314.1 352.4,314.9 353.9,315.7 355.4,316.5 356.9,317.3 358.4,318 360,318.7 361.5,319.4 363,320 364.5,320.6 366,321.2 367.5,321.7 369,322.2 370.5,322.6 372,323.1 373.6,323.5 375.1,324 376.6,324.4 378.1,324.9 379.6,325.3 381.1,325.8 382.6,326.2 384.1,326.7 385.7,327.2 387.2,327.6 388.7,328.1 390.2,328.5 391.7,328.8 393.2,329.2 394.7,329.5 396.2,329.8 397.8,330.1 399.3,330.3 400.8,330.6 402.3,330.8 403.8,331.1 405.3,331.3 406.8,331.6 408.3,331.8 409.9,332.1 411.4,332.3 412.9,332.5 414.4,332.8 415.9,333 417.4,333.3 418.9,333.5 420.4,333.7 421.9,334 423.5,334.2 425,334.5 426.5,334.7 428,335 429.5,335.2 431,335.4 432.5,335.6 434,335.8 435.6,335.9 437.1,336.1 438.6,336.3 440.1,336.5 441.6,336.6 443.1,336.8 444.6,336.9 446.1,337.1 447.7,337.2 449.2,337.4 450.7,337.5 452.2,337.6 453.7,337.7 455.2,337.9 456.7,338 458.2,338.1 459.8,338.2 461.3,338.3 462.8,338.4 464.3,338.5 465.8,338.6 467.3,338.7 468.8,338.7 470.3,338.8 471.8,338.9 473.4,339 474.9,339 476.4,339.1 477.9,339.2 479.4,339.2 480.9,339.3 482.4,339.4 483.9,339.5 485.5,339.6 487,339.6 488.5,339.7 490,339.8 491.5,339.9 493,340 494.5,340.1 496,340.1 497.6,340.2 499.1,340.2 500.6,340.3 502.1,340.3 503.6,340.4 505.1,340.4 506.6,340.4 508.1,340.4 509.7,340.4 511.2,340.2 512.7,339.8 514.2,339.2 515.7,338.6 515.7,345.8 315,345.8" fill="#EB6235" shape-rendering="crispEdges"/>
<rect x="315" y="346.9" width="200.7" height="1.1" fill="#EB6235"/>
<rect x="321.4" y="344.6" width="0.9" height="1.6" fill="#000" fill-opacity="0.5"/>
<rect x="342.6" y="344.6" width="0.9" height="1.6" fill="#000" fill-opacity="0.5"/>
<rect x="363.2" y="344.6" width="0.9" height="1.6" fill="#000" fill-opacity="0.5"/>
<rect x="380.6" y="344.6" width="0.9" height="1.6" fill="#000" fill-opacity="0.5"/>
<rect x="396.4" y="344.6" width="0.9" height="1.6" fill="#000" fill-opacity="0.5"/>
<rect x="410.9" y="344.6" width="0.9" height="1.6" fill="#000" fill-opacity="0.5"/>
<rect x="424.2" y="344.6" width="0.9" height="1.6" fill="#000" fill-opacity="0.5"/>
<rect x="436.8" y="344.6" width="0.9" height="1.6" fill="#000" fill-opacity="0.5"/>
<rect x="447.4" y="344.6" width="0.9" height="1.6" fill="#000" fill-opacity="0.5"/>
<rect x="456.9" y="344.6" width="0.9" height="1.6" fill="#000" fill-opacity="0.5"/>
<rect x="465.9" y="344.6" width="0.9" height="1.6" fill="#000" fill-opacity="0.5"/>
<rect x="474.6" y="344.6" width="0.9" height="1.6" fill="#000" fill-opacity="0.5"/>
<rect x="482.6" y="344.6" width="0.9" height="1.6" fill="#000" fill-opacity="0.5"/>
<rect x="489.8" y="344.6" width="0.9" height="1.6" fill="#000" fill-opacity="0.5"/>
<rect x="496.4" y="344.6" width="0.9" height="1.6" fill="#000" fill-opacity="0.5"/>
<rect x="502.6" y="344.6" width="0.9" height="1.6" fill="#000" fill-opacity="0.5"/>
<rect x="508.4" y="344.6" width="0.9" height="1.6" fill="#000" fill-opacity="0.5"/>
<rect x="513.1" y="344.6" width="0.9" height="1.6" fill="#000" fill-opacity="0.5"/>
<polyline points="515.7,227 514.2,227 512.7,227 511.2,227 509.7,227.1 508.1,227.1 506.6,227.1 505.1,227.1 503.6,227.1 502.1,227.2 500.6,227.2 499.1,227.2 497.6,227.2 496,227.2 494.5,227.3 493,227.3 491.5,227.3 490,227.3 488.5,227.3 487,227.4 485.5,227.4 483.9,227.4 482.4,227.4 480.9,227.4 479.4,227.5 477.9,227.5 476.4,227.5 474.9,227.5 473.4,227.6 471.8,227.6 470.3,227.6 468.8,227.6 467.3,227.7 465.8,227.7 464.3,227.7 462.8,227.7 461.3,227.8 459.8,227.8 458.2,227.8 456.7,227.9 455.2,227.9 453.7,227.9 452.2,228 450.7,228 449.2,228 447.7,228.1 446.1,228.1 444.6,228.1 443.1,228.2 441.6,228.2 440.1,228.2 438.6,228.3 437.1,228.3 435.6,228.4 434,228.4 432.5,228.4 431,228.5 429.5,228.5 428,228.6 426.5,228.6 425,228.7 423.5,228.7 421.9,228.8 420.4,228.8 418.9,228.9 417.4,228.9 415.9,229 414.4,229 412.9,229.1 411.4,229.1 409.9,229.2 408.3,229.3 406.8,229.3 405.3,229.4 403.8,229.5 402.3,229.5 400.8,229.6 399.3,229.7 397.8,229.8 396.2,229.8 394.7,229.9 393.2,230 391.7,230.1 390.2,230.2 388.7,230.3 387.2,230.4 385.7,230.5 384.1,230.6 382.6,230.7 381.1,230.9 379.6,231 378.1,231.1 376.6,231.3 375.1,231.4 373.6,231.5 372,231.7 370.5,231.9 369,232 367.5,232.2 366,232.4 364.5,232.5 363,232.7 361.5,232.9 360,233.2 358.4,233.4 356.9,233.7 355.4,234 353.9,234.4 352.4,234.8 350.9,235.2 349.4,235.7 347.9,236.2 346.3,236.7 344.8,237.2 343.3,237.7 341.8,238.2 340.3,238.7 338.8,239.3 337.3,240 335.8,240.7 334.2,241.5 332.7,242.4 331.2,243.2 329.7,244.2 328.2,245.2 326.7,246.3 325.2,247.5 323.7,248.8 322.1,250.2 320.6,252 319.1,255.3 317.6,257.7 316.1,258.3 316.1,271.7 317.6,276.1 319.1,279.8 320.6,282.9 322.1,285.7 323.7,288.2 325.2,290.6 326.7,292.9 328.2,295 329.7,297.1 331.2,299.1 332.7,300.8 334.2,302.4 335.8,303.9 337.3,305.2 338.8,306.4 340.3,307.4 341.8,308.4 343.3,309.4 344.8,310.4 346.3,311.4 347.9,312.3 349.4,313.2 350.9,314.1 352.4,314.9 353.9,315.7 355.4,316.5 356.9,317.3 358.4,318 360,318.7 361.5,319.4 363,320 364.5,320.6 366,321.2 367.5,321.7 369,322.2 370.5,322.6 372,323.1 373.6,323.5 375.1,324 376.6,324.4 378.1,324.9 379.6,325.3 381.1,325.8 382.6,326.2 384.1,326.7 385.7,327.2 387.2,327.6 388.7,328.1 390.2,328.5 391.7,328.8 393.2,329.2 394.7,329.5 396.2,329.8 397.8,330.1 399.3,330.3 400.8,330.6 402.3,330.8 403.8,331.1 405.3,331.3 406.8,331.6 408.3,331.8 409.9,332.1 411.4,332.3 412.9,332.5 414.4,332.8 415.9,333 417.4,333.3 418.9,333.5 420.4,333.7 421.9,334 423.5,334.2 425,334.5 426.5,334.7 428,335 429.5,335.2 431,335.4 432.5,335.6 434,335.8 435.6,335.9 437.1,336.1 438.6,336.3 440.1,336.5 441.6,336.6 443.1,336.8 444.6,336.9 446.1,337.1 447.7,337.2 449.2,337.4 450.7,337.5 452.2,337.6 453.7,337.7 455.2,337.9 456.7,338 458.2,338.1 459.8,338.2 461.3,338.3 462.8,338.4 464.3,338.5 465.8,338.6 467.3,338.7 468.8,338.7 470.3,338.8 471.8,338.9 473.4,339 474.9,339 476.4,339.1 477.9,339.2 479.4,339.2 480.9,339.3 482.4,339.4 483.9,339.5 485.5,339.6 487,339.6 488.5,339.7 490,339.8 491.5,339.9 493,340 494.5,340.1 496,340.1 497.6,340.2 499.1,340.2 500.6,340.3 502.1,340.3 503.6,340.4 505.1,340.4 506.6,340.4 508.1,340.4 509.7,340.4 511.2,340.2 512.7,339.8 514.2,339.2 515.7,338.6" fill="none" stroke="#EB6235" stroke-width="2.1" stroke-linejoin="round"/>
<polyline points="515.7,226.9 514.7,226.9 513.7,226.9 512.7,226.9 511.7,226.9 510.7,226.9 509.7,226.9 508.7,226.9 507.7,226.9 506.6,226.9 505.6,226.9 504.6,226.9 503.6,226.9 502.6,226.9 501.6,226.9 500.6,226.9 499.6,226.9 498.6,226.9 497.6,226.9 496.6,226.9 495.6,226.9 494.6,226.9 493.6,226.9 492.6,226.9 491.6,226.9 490.5,226.9 489.5,226.9 488.5,226.9 487.5,226.9 486.5,226.9 485.5,226.9 484.5,226.9 483.5,226.9 482.5,226.9 481.5,226.9 480.5,226.9 479.5,226.9 478.5,226.9 477.5,226.9 476.5,226.9 475.5,226.9 474.4,226.9 473.4,226.9 472.4,226.9 471.4,226.9 470.4,226.9 469.4,226.9 468.4,226.9 467.4,226.9 466.4,226.9 465.4,226.9 464.4,226.9 463.4,226.9 462.4,226.9 461.4,226.9 460.4,226.9 459.4,226.9 458.4,226.9 457.3,226.9 456.3,226.9 455.3,226.9 454.3,226.9 453.3,226.9 452.3,226.9 451.3,226.9 450.3,226.9 449.3,226.9 448.3,226.9 447.3,226.9 446.3,226.9 445.3,226.9 444.3,226.9 443.3,226.9 442.3,226.9 441.2,226.9 440.2,226.9 439.2,226.9 438.2,226.9 437.2,226.9 436.2,226.9 435.2,226.9 434.2,226.9 433.2,226.9 432.2,226.9 431.2,226.9 430.2,226.9 429.2,226.9 428.2,227 427.2,227 426.2,227 425.2,227 424.1,227 423.1,227 422.1,227 421.1,227 420.1,227 419.1,227.1 418.1,227.1 417.1,227.1 416.1,227.1 415.1,227.1 414.1,227.1 413.1,227.2 412.1,227.2 411.1,227.2 410.1,227.2 409.1,227.2 408,227.2 407,227.3 406,227.3 405,227.3 404,227.3 403,227.3 402,227.4 401,227.4 400,227.4 399,227.4 398,227.4 397,227.5 396,227.5 395,227.5 394,227.6 393,227.6 391.9,227.6 390.9,227.7 389.9,227.7 388.9,227.8 387.9,227.8 386.9,227.9 385.9,227.9 384.9,228 383.9,228 382.9,228.1 381.9,228.1 380.9,228.2 379.9,228.3 378.9,228.3 377.9,228.4 376.9,228.5 375.9,228.5 374.8,228.6 373.8,228.7 372.8,228.8 371.8,228.9 370.8,229 369.8,229.2 368.8,229.3 367.8,229.4 366.8,229.6 365.8,229.7 364.8,229.9 363.8,230 362.8,230.1 361.8,230.3 360.8,230.4 359.8,230.5 358.7,230.6 357.7,230.7 356.7,230.8 355.7,230.9 354.7,231 353.7,231.1 352.7,231.3 351.7,231.5 350.7,231.7 349.7,231.9 348.7,232.2 347.7,232.5 346.7,232.8 345.7,233.1 344.7,233.5 343.7,233.8 342.6,234.2 341.6,234.6 340.6,235.1 339.6,235.6 338.6,236.3 337.6,236.9 336.6,237.6 335.6,238.9 334.6,244.5 334.6,244.5 335.6,250.8 336.6,252.9 337.6,254.3 338.6,255.5 339.6,257 340.6,258.3 341.6,259.5 342.7,260.6 343.7,261.7 344.7,262.6 345.7,263.5 346.7,264.2 347.7,264.9 348.7,265.5 349.7,266.1 350.7,266.6 351.7,267.2 352.7,267.8 353.7,268.5 354.7,269.1 355.7,269.7 356.7,270.2 357.8,270.7 358.8,271.1 359.8,271.5 360.8,271.9 361.8,272.3 362.8,272.7 363.8,273.1 364.8,273.5 365.8,273.9 366.8,274.3 367.8,274.7 368.8,275.1 369.8,275.5 370.8,275.9 371.8,276.3 372.9,276.7 373.9,277.1 374.9,277.5 375.9,277.8 376.9,278.2 377.9,278.6 378.9,278.9 379.9,279.3 380.9,279.6 381.9,279.9 382.9,280.3 383.9,280.6 384.9,280.9 385.9,281.2 386.9,281.5 388,281.8 389,282.1 390,282.4 391,282.6 392,282.9 393,283.2 394,283.4 395,283.7 396,284 397,284.2 398,284.4 399,284.7 400,284.9 401,285.1 402,285.4 403.1,285.6 404.1,285.8 405.1,286 406.1,286.3 407.1,286.5 408.1,286.7 409.1,286.8 410.1,287 411.1,287.2 412.1,287.3 413.1,287.5 414.1,287.6 415.1,287.8 416.1,287.9 417.1,288.1 418.2,288.2 419.2,288.3 420.2,288.4 421.2,288.6 422.2,288.7 423.2,288.8 424.2,288.9 425.2,289.1 426.2,289.2 427.2,289.3 428.2,289.4 429.2,289.6 430.2,289.7 431.2,289.8 432.3,289.9 433.3,290 434.3,290.2 435.3,290.3 436.3,290.4 437.3,290.5 438.3,290.6 439.3,290.7 440.3,290.8 441.3,290.9 442.3,290.9 443.3,291 444.3,291 445.3,291.1 446.3,291.2 447.4,291.2 448.4,291.3 449.4,291.4 450.4,291.4 451.4,291.5 452.4,291.6 453.4,291.7 454.4,291.7 455.4,291.8 456.4,291.9 457.4,292 458.4,292.1 459.4,292.2 460.4,292.3 461.4,292.4 462.5,292.4 463.5,292.5 464.5,292.6 465.5,292.7 466.5,292.8 467.5,292.9 468.5,293 469.5,293 470.5,293.1 471.5,293.2 472.5,293.3 473.5,293.4 474.5,293.4 475.5,293.5 476.5,293.6 477.6,293.6 478.6,293.7 479.6,293.7 480.6,293.8 481.6,293.8 482.6,293.8 483.6,293.9 484.6,293.9 485.6,293.9 486.6,294 487.6,294 488.6,294 489.6,294 490.6,294 491.6,294.1 492.7,294.1 493.7,294.1 494.7,294.1 495.7,294.1 496.7,294.2 497.7,294.2 498.7,294.2 499.7,294.3 500.7,294.3 501.7,294.3 502.7,294.4 503.7,294.4 504.7,294.4 505.7,294.5 506.7,294.5 507.8,294.6 508.8,294.6 509.8,294.7 510.8,294.7 511.8,294.8 512.8,294.8 513.8,294.9 514.8,294.9" fill="none" stroke="#8FB032" stroke-width="2.1" stroke-linejoin="round"/>
<polyline points="515.7,226.9 514.7,226.9 513.7,226.9 512.7,226.9 511.7,226.9 510.6,226.9 509.6,226.9 508.6,226.9 507.6,226.9 506.6,226.9 505.6,226.9 504.6,226.9 503.6,226.9 502.6,226.9 501.5,226.9 500.5,226.9 499.5,226.9 498.5,226.9 497.5,226.9 496.5,226.9 495.5,226.9 494.5,226.9 493.4,226.9 492.4,226.9 491.4,226.9 490.4,226.9 489.4,226.9 488.4,226.9 487.4,226.9 486.4,226.9 485.4,226.9 484.3,226.9 483.3,226.9 482.3,226.9 481.3,226.9 480.3,226.9 479.3,226.8 478.3,226.8 477.3,226.8 476.3,226.8 475.2,226.8 474.2,226.8 473.2,226.8 472.2,226.8 471.2,226.8 470.2,226.8 469.2,226.8 468.2,226.8 467.2,226.8 466.1,226.8 465.1,226.8 464.1,226.8 463.1,226.8 462.1,226.8 461.1,226.8 460.1,226.8 459.1,226.8 458,226.8 457,226.8 456,226.8 455,226.8 454,226.8 453,226.8 452,226.8 451,226.8 450,226.7 448.9,226.7 447.9,226.7 446.9,226.7 445.9,226.7 444.9,226.7 443.9,226.7 442.9,226.7 441.9,226.7 440.9,226.7 439.8,226.7 438.8,226.7 437.8,226.7 436.8,226.7 435.8,226.7 434.8,226.7 433.8,226.7 432.8,226.7 431.8,226.7 430.7,226.7 429.7,226.7 428.7,226.7 427.7,226.6 426.7,226.6 425.7,226.6 424.7,226.6 423.7,226.6 422.7,226.6 421.6,226.6 420.6,226.6 419.6,226.6 418.6,226.6 417.6,226.6 416.6,226.6 415.6,226.6 414.6,226.6 413.5,226.6 412.5,226.6 411.5,226.6 410.5,226.6 409.5,226.6 408.5,226.5 407.5,226.5 406.5,226.5 405.5,226.5 404.4,226.5 403.4,226.5 402.4,226.5 401.4,226.5 400.4,226.5 399.4,226.5 398.4,226.5 397.4,226.5 396.4,226.5 395.3,226.5 394.3,226.5 393.3,226.5 392.3,226.4 391.3,226.4 390.3,226.4 389.3,226.4 388.3,226.4 387.3,226.4 386.2,226.3 385.2,226.3 384.2,226.3 383.2,226.2 382.2,226.2 381.2,226.2 380.2,226.2 379.2,226.3 378.1,226.3 377.1,226.4 376.1,226.4 375.1,226.5 374.1,226.6 373.1,226.7 372.1,226.8 371.1,226.9 370.1,227.1 369,227.2 368,227.4 367,227.7 366,228.2 365,231.5 365,231.5 366,234.9 367,236.1 368,236.9 369,237.4 370.1,238 371.1,238.6 372.1,239.1 373.1,239.6 374.1,240.1 375.1,240.5 376.1,240.8 377.1,241.1 378.1,241.3 379.2,241.6 380.2,241.8 381.2,242 382.2,242.3 383.2,242.5 384.2,242.7 385.2,243 386.2,243.2 387.3,243.4 388.3,243.7 389.3,243.9 390.3,244.2 391.3,244.4 392.3,244.7 393.3,245 394.3,245.2 395.3,245.5 396.4,245.7 397.4,245.9 398.4,246.1 399.4,246.3 400.4,246.5 401.4,246.7 402.4,246.8 403.4,247 404.4,247.2 405.5,247.4 406.5,247.6 407.5,247.8 408.5,248 409.5,248.2 410.5,248.4 411.5,248.6 412.5,248.8 413.5,249 414.6,249.1 415.6,249.3 416.6,249.5 417.6,249.6 418.6,249.8 419.6,249.9 420.6,250 421.6,250.1 422.7,250.2 423.7,250.3 424.7,250.5 425.7,250.6 426.7,250.7 427.7,250.8 428.7,250.9 429.7,251 430.7,251.1 431.8,251.2 432.8,251.3 433.8,251.5 434.8,251.6 435.8,251.7 436.8,251.8 437.8,251.9 438.8,252 439.8,252.1 440.9,252.3 441.9,252.4 442.9,252.5 443.9,252.6 444.9,252.7 445.9,252.8 446.9,252.9 447.9,253 448.9,253.1 450,253.2 451,253.3 452,253.4 453,253.5 454,253.6 455,253.6 456,253.7 457,253.8 458,253.8 459.1,253.9 460.1,253.9 461.1,254 462.1,254.1 463.1,254.1 464.1,254.2 465.1,254.2 466.1,254.3 467.2,254.4 468.2,254.4 469.2,254.5 470.2,254.6 471.2,254.6 472.2,254.7 473.2,254.7 474.2,254.8 475.2,254.8 476.3,254.9 477.3,254.9 478.3,255 479.3,255 480.3,255 481.3,255.1 482.3,255.1 483.3,255.1 484.3,255.2 485.4,255.2 486.4,255.2 487.4,255.3 488.4,255.3 489.4,255.3 490.4,255.3 491.4,255.4 492.4,255.4 493.4,255.4 494.5,255.4 495.5,255.4 496.5,255.5 497.5,255.5 498.5,255.5 499.5,255.5 500.5,255.6 501.5,255.6 502.6,255.7 503.6,255.7 504.6,255.8 505.6,255.8 506.6,255.8 507.6,255.9 508.6,255.9 509.6,255.9 510.6,255.9 511.7,256 512.7,256 513.7,256 514.7,256 515.7,256" fill="none" stroke="#E19C24" stroke-width="2.1" stroke-linejoin="round"/>
<polygon points="495.7,226.6 497.9,224.4 499.1,224.4 501.3,226.6 501.3,227.8 499.1,230 497.9,230 495.7,227.8" fill="#EB6235"/>
<polygon points="482.4,226.8 484.6,224.6 485.8,224.6 488,226.8 488,228 485.8,230.2 484.6,230.2 482.4,228" fill="#EB6235"/>
<polygon points="385.7,229.7 387.9,227.5 389.1,227.5 391.3,229.7 391.3,230.9 389.1,233.1 387.9,233.1 385.7,230.9" fill="#EB6235"/>
<polygon points="379.6,230.1 381.8,227.9 383,227.9 385.2,230.1 385.2,231.4 383,233.5 381.8,233.5 379.6,231.4" fill="#EB6235"/>
<polygon points="368.3,231.2 370.5,229 371.7,229 373.9,231.2 373.9,232.4 371.7,234.6 370.5,234.6 368.3,232.4" fill="#EB6235"/>
<polygon points="354.5,233 356.7,230.8 357.9,230.8 360.1,233 360.1,234.2 357.9,236.4 356.7,236.4 354.5,234.2" fill="#EB6235"/>
<polygon points="343.8,236 346,233.8 347.2,233.8 349.4,236 349.4,237.2 347.2,239.4 346,239.4 343.8,237.2" fill="#EB6235"/>
<polygon points="335.6,238.9 337.8,236.7 339,236.7 341.2,238.9 341.2,240.1 339,242.3 337.8,242.3 335.6,240.1" fill="#EB6235"/>
<polygon points="512.9,338 515.1,335.8 516.3,335.8 518.5,338 518.5,339.2 516.3,341.4 515.1,341.4 512.9,339.2" fill="#EB6235"/>
<polygon points="504.2,339.8 506.4,337.6 507.6,337.6 509.8,339.8 509.8,341.1 507.6,343.2 506.4,343.2 504.2,341.1" fill="#EB6235"/>
<polygon points="495.5,339.6 497.7,337.4 498.9,337.4 501.1,339.6 501.1,340.8 498.9,343 497.7,343 495.5,340.8" fill="#EB6235"/>
<polygon points="486.8,339.2 489,337 490.2,337 492.4,339.2 492.4,340.4 490.2,342.6 489,342.6 486.8,340.4" fill="#EB6235"/>
<polygon points="478.1,338.7 480.3,336.5 481.5,336.5 483.7,338.7 483.7,339.9 481.5,342.1 480.3,342.1 478.1,339.9" fill="#EB6235"/>
<polygon points="469.4,338.3 471.6,336.1 472.8,336.1 475,338.3 475,339.5 472.8,341.7 471.6,341.7 469.4,339.5" fill="#EB6235"/>
<polygon points="460.7,337.8 462.9,335.6 464.1,335.6 466.3,337.8 466.3,339 464.1,341.2 462.9,341.2 460.7,339" fill="#EB6235"/>
<polygon points="452,337.2 454.2,335 455.4,335 457.6,337.2 457.6,338.4 455.4,340.6 454.2,340.6 452,338.4" fill="#EB6235"/>
<polygon points="443.3,336.5 445.5,334.3 446.7,334.3 448.9,336.5 448.9,337.7 446.7,339.9 445.5,339.9 443.3,337.7" fill="#EB6235"/>
<polygon points="434.6,335.6 436.8,333.4 438,333.4 440.2,335.6 440.2,336.8 438,339 436.8,339 434.6,336.8" fill="#EB6235"/>
<polygon points="425.9,334.4 428.1,332.3 429.3,332.3 431.5,334.4 431.5,335.7 429.3,337.9 428.1,337.9 425.9,335.7" fill="#EB6235"/>
<polygon points="417.2,333 419.4,330.9 420.6,330.9 422.8,333 422.8,334.3 420.6,336.5 419.4,336.5 417.2,334.3" fill="#EB6235"/>
<polygon points="408.5,331.7 410.7,329.5 411.9,329.5 414.1,331.7 414.1,332.9 411.9,335.1 410.7,335.1 408.5,332.9" fill="#EB6235"/>
<circle cx="316.1" cy="258.3" r="2.3" fill="#EB6235"/>
<circle cx="316.1" cy="271.7" r="2.3" fill="#EB6235"/>
<rect x="332.2" y="236.4" width="6.1" height="6.1" fill="#8FB032"/>
<rect x="335.3" y="233.3" width="6.1" height="6.1" fill="#8FB032"/>
<rect x="337.8" y="232" width="6.1" height="6.1" fill="#8FB032"/>
<rect x="340.4" y="230.8" width="6.1" height="6.1" fill="#8FB032"/>
<rect x="344.4" y="229.5" width="6.1" height="6.1" fill="#8FB032"/>
<rect x="349.6" y="228.2" width="6.1" height="6.1" fill="#8FB032"/>
<rect x="358.3" y="227.2" width="6.1" height="6.1" fill="#8FB032"/>
<rect x="365.4" y="226.3" width="6.1" height="6.1" fill="#8FB032"/>
<rect x="374.9" y="225.3" width="6.1" height="6.1" fill="#8FB032"/>
<rect x="385.9" y="224.7" width="6.1" height="6.1" fill="#8FB032"/>
<rect x="397.2" y="224.7" width="5.5" height="5.5" fill="#8FB032"/>
<rect x="400.2" y="224.6" width="5.5" height="5.5" fill="#8FB032"/>
<rect x="403.2" y="224.5" width="5.5" height="5.5" fill="#8FB032"/>
<rect x="406.2" y="224.5" width="5.5" height="5.5" fill="#8FB032"/>
<rect x="409.2" y="224.4" width="5.5" height="5.5" fill="#8FB032"/>
<rect x="412.2" y="224.4" width="5.5" height="5.5" fill="#8FB032"/>
<rect x="415.2" y="224.3" width="5.5" height="5.5" fill="#8FB032"/>
<rect x="418.2" y="224.3" width="5.5" height="5.5" fill="#8FB032"/>
<rect x="421.2" y="224.2" width="5.5" height="5.5" fill="#8FB032"/>
<rect x="424.2" y="224.2" width="5.5" height="5.5" fill="#8FB032"/>
<rect x="427.2" y="224.2" width="5.5" height="5.5" fill="#8FB032"/>
<rect x="430.2" y="224.2" width="5.5" height="5.5" fill="#8FB032"/>
<rect x="433.2" y="224.2" width="5.5" height="5.5" fill="#8FB032"/>
<rect x="436.2" y="224.2" width="5.5" height="5.5" fill="#8FB032"/>
<rect x="439.2" y="224.2" width="5.5" height="5.5" fill="#8FB032"/>
<rect x="442.2" y="224.2" width="5.5" height="5.5" fill="#8FB032"/>
<rect x="445.2" y="224.2" width="5.5" height="5.5" fill="#8FB032"/>
<rect x="448.2" y="224.2" width="5.5" height="5.5" fill="#8FB032"/>
<rect x="451.2" y="224.2" width="5.5" height="5.5" fill="#8FB032"/>
<rect x="454.2" y="224.2" width="5.5" height="5.5" fill="#8FB032"/>
<rect x="457.2" y="224.2" width="5.5" height="5.5" fill="#8FB032"/>
<rect x="460.2" y="224.2" width="5.5" height="5.5" fill="#8FB032"/>
<rect x="463.2" y="224.2" width="5.5" height="5.5" fill="#8FB032"/>
<rect x="466.2" y="224.2" width="5.5" height="5.5" fill="#8FB032"/>
<rect x="469.2" y="224.2" width="5.5" height="5.5" fill="#8FB032"/>
<rect x="472.2" y="224.2" width="5.5" height="5.5" fill="#8FB032"/>
<rect x="475.2" y="224.2" width="5.5" height="5.5" fill="#8FB032"/>
<rect x="478.2" y="224.2" width="5.5" height="5.5" fill="#8FB032"/>
<rect x="481.2" y="224.2" width="5.5" height="5.5" fill="#8FB032"/>
<rect x="484.2" y="224.2" width="5.5" height="5.5" fill="#8FB032"/>
<rect x="487.2" y="224.2" width="5.5" height="5.5" fill="#8FB032"/>
<rect x="505.9" y="223.8" width="6.1" height="6.1" fill="#8FB032"/>
<rect x="511.9" y="223.8" width="6.1" height="6.1" fill="#8FB032"/>
<rect x="332.2" y="246.8" width="6.1" height="6.1" fill="#8FB032"/>
<rect x="333.8" y="250.2" width="6.1" height="6.1" fill="#8FB032"/>
<rect x="335.6" y="252.4" width="6.1" height="6.1" fill="#8FB032"/>
<rect x="337.6" y="255.2" width="6.1" height="6.1" fill="#8FB032"/>
<rect x="339.9" y="257.9" width="6.1" height="6.1" fill="#8FB032"/>
<rect x="341.9" y="259.8" width="6.1" height="6.1" fill="#8FB032"/>
<rect x="344.1" y="261.6" width="6.1" height="6.1" fill="#8FB032"/>
<rect x="346.2" y="262.8" width="6.1" height="6.1" fill="#8FB032"/>
<rect x="348.3" y="263.9" width="6.1" height="6.1" fill="#8FB032"/>
<rect x="351.4" y="265.9" width="6.1" height="6.1" fill="#8FB032"/>
<rect x="354.4" y="267.5" width="6.1" height="6.1" fill="#8FB032"/>
<rect x="362.8" y="270.8" width="6.1" height="6.1" fill="#8FB032"/>
<rect x="372.4" y="274.6" width="6.1" height="6.1" fill="#8FB032"/>
<rect x="384.6" y="278.6" width="6.1" height="6.1" fill="#8FB032"/>
<rect x="399.4" y="282.4" width="6.1" height="6.1" fill="#8FB032"/>
<rect x="402.4" y="283.1" width="6.1" height="6.1" fill="#8FB032"/>
<rect x="405.3" y="283.7" width="6.1" height="6.1" fill="#8FB032"/>
<rect x="408.2" y="284.2" width="6.1" height="6.1" fill="#8FB032"/>
<rect x="411.2" y="284.6" width="6.1" height="6.1" fill="#8FB032"/>
<rect x="414.2" y="285" width="6.1" height="6.1" fill="#8FB032"/>
<rect x="417.1" y="285.4" width="6.1" height="6.1" fill="#8FB032"/>
<rect x="420.1" y="285.8" width="6.1" height="6.1" fill="#8FB032"/>
<rect x="423.1" y="286.1" width="6.1" height="6.1" fill="#8FB032"/>
<rect x="426" y="286.5" width="6.1" height="6.1" fill="#8FB032"/>
<rect x="429" y="286.8" width="6.1" height="6.1" fill="#8FB032"/>
<rect x="431.9" y="287.2" width="6.1" height="6.1" fill="#8FB032"/>
<rect x="437.4" y="287.8" width="6.1" height="6.1" fill="#8FB032"/>
<rect x="445.4" y="288.2" width="6.1" height="6.1" fill="#8FB032"/>
<rect x="454.4" y="288.9" width="6.1" height="6.1" fill="#8FB032"/>
<rect x="464.6" y="289.8" width="6.1" height="6.1" fill="#8FB032"/>
<rect x="478.1" y="290.8" width="6.1" height="6.1" fill="#8FB032"/>
<rect x="494.8" y="291.1" width="6.1" height="6.1" fill="#8FB032"/>
<rect x="511.7" y="291.8" width="6.1" height="6.1" fill="#8FB032"/>
<polygon points="362.3,227.4 365.2,224.5 366.8,224.5 369.7,227.4 369.7,229 366.8,231.9 365.2,231.9 362.3,229" fill="#E19C24"/>
<polygon points="366.9,226.2 369.8,223.3 371.4,223.3 374.3,226.2 374.3,227.8 371.4,230.7 369.8,230.7 366.9,227.8" fill="#E19C24"/>
<polygon points="372.5,225.6 375.4,222.7 377,222.7 379.9,225.6 379.9,227.2 377,230.1 375.4,230.1 372.5,227.2" fill="#E19C24"/>
<polygon points="378.2,225.4 381.1,222.5 382.7,222.5 385.6,225.4 385.6,227 382.7,229.9 381.1,229.9 378.2,227" fill="#E19C24"/>
<polygon points="384.3,225.6 387.2,222.7 388.8,222.7 391.7,225.6 391.7,227.2 388.8,230.1 387.2,230.1 384.3,227.2" fill="#E19C24"/>
<polygon points="392.7,225.7 395.6,222.8 397.2,222.8 400.1,225.7 400.1,227.3 397.2,230.2 395.6,230.2 392.7,227.3" fill="#E19C24"/>
<polygon points="399.3,225.7 402.2,222.8 403.8,222.8 406.7,225.7 406.7,227.3 403.8,230.2 402.2,230.2 399.3,227.3" fill="#E19C24"/>
<polygon points="402.4,225.7 405.3,222.8 406.9,222.8 409.8,225.7 409.8,227.3 406.9,230.2 405.3,230.2 402.4,227.3" fill="#E19C24"/>
<polygon points="405.5,225.7 408.4,222.9 410.1,222.9 412.9,225.7 412.9,227.4 410.1,230.3 408.4,230.3 405.5,227.4" fill="#E19C24"/>
<polygon points="408.7,225.8 411.6,222.9 413.2,222.9 416.1,225.8 416.1,227.4 413.2,230.3 411.6,230.3 408.7,227.4" fill="#E19C24"/>
<polygon points="411.8,225.8 414.7,222.9 416.3,222.9 419.2,225.8 419.2,227.4 416.3,230.3 414.7,230.3 411.8,227.4" fill="#E19C24"/>
<polygon points="414.9,225.8 417.8,222.9 419.4,222.9 422.3,225.8 422.3,227.4 419.4,230.3 417.8,230.3 414.9,227.4" fill="#E19C24"/>
<polygon points="418,225.8 420.9,222.9 422.6,222.9 425.4,225.8 425.4,227.4 422.6,230.3 420.9,230.3 418,227.4" fill="#E19C24"/>
<polygon points="421.2,225.8 424.1,222.9 425.7,222.9 428.6,225.8 428.6,227.4 425.7,230.3 424.1,230.3 421.2,227.4" fill="#E19C24"/>
<polygon points="424.3,225.8 427.2,222.9 428.8,222.9 431.7,225.8 431.7,227.5 428.8,230.3 427.2,230.3 424.3,227.5" fill="#E19C24"/>
<polygon points="430.2,225.9 433.1,223 434.7,223 437.6,225.9 437.6,227.5 434.7,230.4 433.1,230.4 430.2,227.5" fill="#E19C24"/>
<polygon points="437.2,225.9 440.1,223 441.7,223 444.6,225.9 444.6,227.5 441.7,230.4 440.1,230.4 437.2,227.5" fill="#E19C24"/>
<polygon points="445.2,225.9 448.1,223 449.7,223 452.6,225.9 452.6,227.6 449.7,230.4 448.1,230.4 445.2,227.6" fill="#E19C24"/>
<polygon points="454,226 456.9,223.1 458.5,223.1 461.4,226 461.4,227.6 458.5,230.5 456.9,230.5 454,227.6" fill="#E19C24"/>
<polygon points="464.4,226 467.3,223.1 468.9,223.1 471.8,226 471.8,227.6 468.9,230.5 467.3,230.5 464.4,227.6" fill="#E19C24"/>
<polygon points="477.7,226 480.6,223.2 482.2,223.2 485.1,226 485.1,227.7 482.2,230.6 480.6,230.6 477.7,227.7" fill="#E19C24"/>
<polygon points="504.9,226.1 507.8,223.2 509.4,223.2 512.3,226.1 512.3,227.7 509.4,230.6 507.8,230.6 504.9,227.7" fill="#E19C24"/>
<polygon points="362.3,234.1 365.2,231.2 366.8,231.2 369.7,234.1 369.7,235.7 366.8,238.6 365.2,238.6 362.3,235.7" fill="#E19C24"/>
<polygon points="366.4,237.2 369.3,234.3 370.9,234.3 373.8,237.2 373.8,238.8 370.9,241.7 369.3,241.7 366.4,238.8" fill="#E19C24"/>
<polygon points="371.5,239.7 374.4,236.8 376,236.8 378.9,239.7 378.9,241.3 376,244.2 374.4,244.2 371.5,241.3" fill="#E19C24"/>
<polygon points="377.7,241.3 380.6,238.4 382.2,238.4 385.1,241.3 385.1,242.9 382.2,245.8 380.6,245.8 377.7,242.9" fill="#E19C24"/>
<polygon points="384.3,242.8 387.2,239.9 388.8,239.9 391.7,242.8 391.7,244.4 388.8,247.3 387.2,247.3 384.3,244.4" fill="#E19C24"/>
<polygon points="392.7,244.9 395.6,242 397.2,242 400.1,244.9 400.1,246.5 397.2,249.4 395.6,249.4 392.7,246.5" fill="#E19C24"/>
<polygon points="401.9,246.6 404.8,243.7 406.4,243.7 409.3,246.6 409.3,248.2 406.4,251.1 404.8,251.1 401.9,248.2" fill="#E19C24"/>
<polygon points="404.3,247 407.2,244.2 408.8,244.2 411.7,247 411.7,248.7 408.8,251.6 407.2,251.6 404.3,248.7" fill="#E19C24"/>
<polygon points="407.3,247.6 410.2,244.8 411.8,244.8 414.7,247.6 414.7,249.3 411.8,252.2 410.2,252.2 407.3,249.3" fill="#E19C24"/>
<polygon points="410.2,248.2 413.1,245.3 414.8,245.3 417.6,248.2 417.6,249.9 414.8,252.7 413.1,252.7 410.2,249.9" fill="#E19C24"/>
<polygon points="413.2,248.7 416.1,245.8 417.7,245.8 420.6,248.7 420.6,250.4 417.7,253.2 416.1,253.2 413.2,250.4" fill="#E19C24"/>
<polygon points="416.2,249.1 419.1,246.2 420.7,246.2 423.6,249.1 423.6,250.8 420.7,253.6 419.1,253.6 416.2,250.8" fill="#E19C24"/>
<polygon points="419.2,249.5 422.1,246.6 423.8,246.6 426.6,249.5 426.6,251.1 423.8,254 422.1,254 419.2,251.1" fill="#E19C24"/>
<polygon points="422.3,249.8 425.1,246.9 426.8,246.9 429.7,249.8 429.7,251.4 426.8,254.3 425.1,254.3 422.3,251.4" fill="#E19C24"/>
<polygon points="425.3,250.1 428.2,247.2 429.8,247.2 432.7,250.1 432.7,251.7 429.8,254.6 428.2,254.6 425.3,251.7" fill="#E19C24"/>
<polygon points="428.3,250.4 431.2,247.6 432.8,247.6 435.7,250.4 435.7,252.1 432.8,255 431.2,255 428.3,252.1" fill="#E19C24"/>
<polygon points="431.3,250.8 434.2,247.9 435.8,247.9 438.7,250.8 438.7,252.4 435.8,255.3 434.2,255.3 431.3,252.4" fill="#E19C24"/>
<polygon points="434.3,251.1 437.2,248.2 438.8,248.2 441.7,251.1 441.7,252.8 438.8,255.6 437.2,255.6 434.3,252.8" fill="#E19C24"/>
<polygon points="440.3,251.8 443.2,248.9 444.8,248.9 447.7,251.8 447.7,253.4 444.8,256.3 443.2,256.3 440.3,253.4" fill="#E19C24"/>
<polygon points="449.3,252.7 452.2,249.8 453.8,249.8 456.7,252.7 456.7,254.3 453.8,257.2 452.2,257.2 449.3,254.3" fill="#E19C24"/>
<polygon points="459.2,253.3 462.1,250.4 463.7,250.4 466.6,253.3 466.6,254.9 463.7,257.8 462.1,257.8 459.2,254.9" fill="#E19C24"/>
<polygon points="470.8,254 473.7,251.1 475.3,251.1 478.2,254 478.2,255.6 475.3,258.5 473.7,258.5 470.8,255.6" fill="#E19C24"/>
<polygon points="477.6,254.3 480.5,251.4 482.1,251.4 485,254.3 485,255.9 482.1,258.8 480.5,258.8 477.6,255.9" fill="#E19C24"/>
<polygon points="485.2,254.5 488.1,251.6 489.7,251.6 492.6,254.5 492.6,256.1 489.7,259 488.1,259 485.2,256.1" fill="#E19C24"/>
<polygon points="494.5,254.7 497.4,251.8 499,251.8 501.9,254.7 501.9,256.3 499,259.2 497.4,259.2 494.5,256.3" fill="#E19C24"/>
<polygon points="504.9,255.1 507.8,252.2 509.4,252.2 512.3,255.1 512.3,256.7 509.4,259.6 507.8,259.6 504.9,256.7" fill="#E19C24"/>
<polygon points="512,255.2 514.9,252.3 516.5,252.3 519.4,255.2 519.4,256.8 516.5,259.7 514.9,259.7 512,256.8" fill="#E19C24"/>
<text class="t" x="339.9" y="211.8">A1−CWPr: <tspan font-style="italic">M</tspan>=16, <tspan font-style="italic">R</tspan>=4, <tspan font-style="italic">q</tspan>=2</text>
<rect x="345" y="378.2" width="15.2" height="1.9" fill="#5E81B5"/>
<path d="M352.6 375.7L356.1 381.6L349.1 381.6Z" fill="#5E81B5" stroke="#5E81B5" stroke-width="0.8" stroke-linejoin="round"/>
<text class="l" x="366.3" y="380.9">1</text>
<rect x="381" y="378.2" width="15.2" height="1.9" fill="#E19C24"/>
<polygon points="384.8,377.9 387.8,374.9 389.4,374.9 392.4,377.9 392.4,379.5 389.4,382.5 387.8,382.5 384.8,379.5" fill="#E19C24"/>
<text class="l" x="401.4" y="380.9">2</text>
<rect x="417.4" y="378.2" width="15.2" height="1.9" fill="#8FB032"/>
<rect x="422.3" y="376" width="5.8" height="5.8" fill="#8FB032"/>
<text class="l" x="438.2" y="380.9">4</text>
<rect x="453.2" y="378.2" width="15.2" height="1.9" fill="#EB6235"/>
<polygon points="458.3,378.3 460.4,376.2 461.6,376.2 463.7,378.3 463.7,379.5 461.6,381.6 460.4,381.6 458.3,379.5" fill="#EB6235"/>
<text class="l" transform="translate(475.3 381) scale(1.06 0.86)" x="0" y="0">∞</text>
<polygon points="598,226 799,226 799,227 797.5,227 796,227 794.5,227 792.9,227 791.4,227 789.9,227 788.4,227.1 786.9,227.1 785.4,227.1 783.9,227.1 782.4,227.1 780.8,227.1 779.3,227.1 777.8,227.1 776.3,227.2 774.8,227.2 773.3,227.2 771.8,227.2 770.2,227.2 768.7,227.2 767.2,227.2 765.7,227.3 764.2,227.3 762.7,227.3 761.2,227.3 759.6,227.3 758.1,227.3 756.6,227.4 755.1,227.4 753.6,227.4 752.1,227.4 750.6,227.4 749,227.5 747.5,227.5 746,227.5 744.5,227.5 743,227.6 741.5,227.6 740,227.6 738.5,227.6 736.9,227.7 735.4,227.7 733.9,227.7 732.4,227.8 730.9,227.8 729.4,227.8 727.9,227.8 726.3,227.9 724.8,227.9 723.3,227.9 721.8,228 720.3,228 718.8,228 717.3,228.1 715.8,228.1 714.2,228.1 712.7,228.2 711.2,228.2 709.7,228.2 708.2,228.3 706.7,228.3 705.2,228.3 703.6,228.4 702.1,228.4 700.6,228.5 699.1,228.5 697.6,228.5 696.1,228.6 694.6,228.6 693,228.7 691.5,228.7 690,228.8 688.5,228.9 687,228.9 685.5,229 684,229.1 682.5,229.1 680.9,229.2 679.4,229.3 677.9,229.4 676.4,229.5 674.9,229.6 673.4,229.7 671.9,229.8 670.3,229.9 668.8,230 667.3,230.1 665.8,230.2 664.3,230.3 662.8,230.4 661.3,230.6 659.7,230.7 658.2,230.9 656.7,231 655.2,231.2 653.7,231.4 652.2,231.6 650.7,231.8 649.2,232 647.6,232.2 646.1,232.4 644.6,232.6 643.1,232.9 641.6,233.2 640.1,233.4 638.6,233.7 637,234.1 635.5,234.4 634,234.8 632.5,235.3 631,235.8 629.5,236.2 628,236.8 626.4,237.3 624.9,237.9 623.4,238.5 621.9,239.3 620.4,240.3 618.9,241.3 617.4,242.2 615.9,242.5 614.3,242.4 612.8,242.3 611.3,242.3 609.8,244 608.3,246.4 606.8,248.2 605.3,249.8 603.7,251.8 602.2,255.1 600.7,257.7 599.2,258.3 599.2,271.7 600.7,277.8 602.2,280.3 603.7,283.2 605.3,286.1 606.8,288.7 608.3,291 609.8,293.2 611.3,295.3 612.8,297.4 614.3,299.5 615.9,301.4 617.4,303.3 618.9,304.8 620.4,306.1 621.9,307.2 623.4,308.2 624.9,309.3 626.4,310.3 628,311.3 629.5,312.4 631,313.3 632.5,314.3 634,315.2 635.5,316 637,316.8 638.6,317.6 640.1,318.4 641.6,319.1 643.1,319.8 644.6,320.5 646.1,321.1 647.6,321.7 649.2,322.2 650.7,322.7 652.2,323.2 653.7,323.7 655.2,324.1 656.7,324.6 658.2,325 659.7,325.4 661.3,325.9 662.8,326.3 664.3,326.8 665.8,327.2 667.3,327.7 668.8,328.1 670.3,328.5 671.9,328.9 673.4,329.3 674.9,329.6 676.4,330 677.9,330.2 679.4,330.5 680.9,330.8 682.5,331 684,331.2 685.5,331.5 687,331.7 688.5,331.9 690,332.1 691.5,332.3 693,332.5 694.6,332.7 696.1,332.9 697.6,333.1 699.1,333.2 700.6,333.4 702.1,333.6 703.6,333.8 705.2,334 706.7,334.2 708.2,334.5 709.7,334.7 711.2,335 712.7,335.4 714.2,335.9 715.8,336.3 717.3,336.6 718.8,336.9 720.3,337.1 721.8,337.3 723.3,337.4 724.8,337.6 726.3,337.7 727.9,337.9 729.4,338 730.9,338.1 732.4,338.2 733.9,338.3 735.4,338.4 736.9,338.5 738.5,338.6 740,338.7 741.5,338.8 743,338.9 744.5,338.9 746,339 747.5,339.1 749,339.1 750.6,339.2 752.1,339.3 753.6,339.3 755.1,339.4 756.6,339.5 758.1,339.6 759.6,339.6 761.2,339.7 762.7,339.8 764.2,339.9 765.7,339.9 767.2,340 768.7,340.1 770.2,340.2 771.8,340.3 773.3,340.3 774.8,340.4 776.3,340.5 777.8,340.6 779.3,340.7 780.8,340.8 782.4,340.9 783.9,341 785.4,341.1 786.9,341.1 788.4,341.1 789.9,341.1 791.4,341.1 792.9,341 794.5,340.9 796,340.5 797.5,339.8 799,339 799,345.8 598,345.8" fill="#EB6235" shape-rendering="crispEdges"/>
<rect x="598" y="346.9" width="201" height="1.1" fill="#EB6235"/>
<rect x="604.3" y="344.6" width="0.9" height="1.6" fill="#000" fill-opacity="0.5"/>
<rect x="625.5" y="344.6" width="0.9" height="1.6" fill="#000" fill-opacity="0.5"/>
<rect x="646.2" y="344.6" width="0.9" height="1.6" fill="#000" fill-opacity="0.5"/>
<rect x="663.5" y="344.6" width="0.9" height="1.6" fill="#000" fill-opacity="0.5"/>
<rect x="679.4" y="344.6" width="0.9" height="1.6" fill="#000" fill-opacity="0.5"/>
<rect x="693.9" y="344.6" width="0.9" height="1.6" fill="#000" fill-opacity="0.5"/>
<rect x="707.2" y="344.6" width="0.9" height="1.6" fill="#000" fill-opacity="0.5"/>
<rect x="719.8" y="344.6" width="0.9" height="1.6" fill="#000" fill-opacity="0.5"/>
<rect x="730.3" y="344.6" width="0.9" height="1.6" fill="#000" fill-opacity="0.5"/>
<rect x="739.8" y="344.6" width="0.9" height="1.6" fill="#000" fill-opacity="0.5"/>
<rect x="748.9" y="344.6" width="0.9" height="1.6" fill="#000" fill-opacity="0.5"/>
<rect x="757.5" y="344.6" width="0.9" height="1.6" fill="#000" fill-opacity="0.5"/>
<rect x="765.5" y="344.6" width="0.9" height="1.6" fill="#000" fill-opacity="0.5"/>
<rect x="772.8" y="344.6" width="0.9" height="1.6" fill="#000" fill-opacity="0.5"/>
<rect x="779.4" y="344.6" width="0.9" height="1.6" fill="#000" fill-opacity="0.5"/>
<rect x="785.5" y="344.6" width="0.9" height="1.6" fill="#000" fill-opacity="0.5"/>
<rect x="791.3" y="344.6" width="0.9" height="1.6" fill="#000" fill-opacity="0.5"/>
<rect x="796.1" y="344.6" width="0.9" height="1.6" fill="#000" fill-opacity="0.5"/>
<polyline points="799,227 797.5,227 796,227 794.5,227 792.9,227 791.4,227 789.9,227 788.4,227.1 786.9,227.1 785.4,227.1 783.9,227.1 782.4,227.1 780.8,227.1 779.3,227.1 777.8,227.1 776.3,227.2 774.8,227.2 773.3,227.2 771.8,227.2 770.2,227.2 768.7,227.2 767.2,227.2 765.7,227.3 764.2,227.3 762.7,227.3 761.2,227.3 759.6,227.3 758.1,227.3 756.6,227.4 755.1,227.4 753.6,227.4 752.1,227.4 750.6,227.4 749,227.5 747.5,227.5 746,227.5 744.5,227.5 743,227.6 741.5,227.6 740,227.6 738.5,227.6 736.9,227.7 735.4,227.7 733.9,227.7 732.4,227.8 730.9,227.8 729.4,227.8 727.9,227.8 726.3,227.9 724.8,227.9 723.3,227.9 721.8,228 720.3,228 718.8,228 717.3,228.1 715.8,228.1 714.2,228.1 712.7,228.2 711.2,228.2 709.7,228.2 708.2,228.3 706.7,228.3 705.2,228.3 703.6,228.4 702.1,228.4 700.6,228.5 699.1,228.5 697.6,228.5 696.1,228.6 694.6,228.6 693,228.7 691.5,228.7 690,228.8 688.5,228.9 687,228.9 685.5,229 684,229.1 682.5,229.1 680.9,229.2 679.4,229.3 677.9,229.4 676.4,229.5 674.9,229.6 673.4,229.7 671.9,229.8 670.3,229.9 668.8,230 667.3,230.1 665.8,230.2 664.3,230.3 662.8,230.4 661.3,230.6 659.7,230.7 658.2,230.9 656.7,231 655.2,231.2 653.7,231.4 652.2,231.6 650.7,231.8 649.2,232 647.6,232.2 646.1,232.4 644.6,232.6 643.1,232.9 641.6,233.2 640.1,233.4 638.6,233.7 637,234.1 635.5,234.4 634,234.8 632.5,235.3 631,235.8 629.5,236.2 628,236.8 626.4,237.3 624.9,237.9 623.4,238.5 621.9,239.3 620.4,240.3 618.9,241.3 617.4,242.2 615.9,242.5 614.3,242.4 612.8,242.3 611.3,242.3 609.8,244 608.3,246.4 606.8,248.2 605.3,249.8 603.7,251.8 602.2,255.1 600.7,257.7 599.2,258.3 599.2,271.7 600.7,277.8 602.2,280.3 603.7,283.2 605.3,286.1 606.8,288.7 608.3,291 609.8,293.2 611.3,295.3 612.8,297.4 614.3,299.5 615.9,301.4 617.4,303.3 618.9,304.8 620.4,306.1 621.9,307.2 623.4,308.2 624.9,309.3 626.4,310.3 628,311.3 629.5,312.4 631,313.3 632.5,314.3 634,315.2 635.5,316 637,316.8 638.6,317.6 640.1,318.4 641.6,319.1 643.1,319.8 644.6,320.5 646.1,321.1 647.6,321.7 649.2,322.2 650.7,322.7 652.2,323.2 653.7,323.7 655.2,324.1 656.7,324.6 658.2,325 659.7,325.4 661.3,325.9 662.8,326.3 664.3,326.8 665.8,327.2 667.3,327.7 668.8,328.1 670.3,328.5 671.9,328.9 673.4,329.3 674.9,329.6 676.4,330 677.9,330.2 679.4,330.5 680.9,330.8 682.5,331 684,331.2 685.5,331.5 687,331.7 688.5,331.9 690,332.1 691.5,332.3 693,332.5 694.6,332.7 696.1,332.9 697.6,333.1 699.1,333.2 700.6,333.4 702.1,333.6 703.6,333.8 705.2,334 706.7,334.2 708.2,334.5 709.7,334.7 711.2,335 712.7,335.4 714.2,335.9 715.8,336.3 717.3,336.6 718.8,336.9 720.3,337.1 721.8,337.3 723.3,337.4 724.8,337.6 726.3,337.7 727.9,337.9 729.4,338 730.9,338.1 732.4,338.2 733.9,338.3 735.4,338.4 736.9,338.5 738.5,338.6 740,338.7 741.5,338.8 743,338.9 744.5,338.9 746,339 747.5,339.1 749,339.1 750.6,339.2 752.1,339.3 753.6,339.3 755.1,339.4 756.6,339.5 758.1,339.6 759.6,339.6 761.2,339.7 762.7,339.8 764.2,339.9 765.7,339.9 767.2,340 768.7,340.1 770.2,340.2 771.8,340.3 773.3,340.3 774.8,340.4 776.3,340.5 777.8,340.6 779.3,340.7 780.8,340.8 782.4,340.9 783.9,341 785.4,341.1 786.9,341.1 788.4,341.1 789.9,341.1 791.4,341.1 792.9,341 794.5,340.9 796,340.5 797.5,339.8 799,339" fill="none" stroke="#EB6235" stroke-width="2.1" stroke-linejoin="round"/>
<polyline points="799,226.9 798,226.9 797,226.9 796,226.9 795,226.9 794,226.9 792.9,226.9 791.9,226.9 790.9,226.9 789.9,226.9 788.9,226.9 787.9,226.9 786.9,226.9 785.9,226.9 784.9,226.9 783.9,226.9 782.8,226.9 781.8,226.9 780.8,226.9 779.8,226.9 778.8,226.9 777.8,226.9 776.8,226.9 775.8,226.9 774.8,226.9 773.8,226.9 772.7,226.9 771.7,226.9 770.7,226.9 769.7,226.9 768.7,226.9 767.7,226.9 766.7,226.9 765.7,226.9 764.7,226.9 763.7,226.9 762.6,226.9 761.6,226.9 760.6,226.9 759.6,226.9 758.6,226.9 757.6,226.9 756.6,226.9 755.6,226.9 754.6,226.9 753.6,226.9 752.5,226.9 751.5,226.9 750.5,226.9 749.5,226.9 748.5,226.9 747.5,226.9 746.5,226.9 745.5,226.9 744.5,226.9 743.5,226.9 742.4,226.9 741.4,226.9 740.4,226.9 739.4,226.9 738.4,226.9 737.4,226.9 736.4,226.9 735.4,226.9 734.4,226.9 733.4,226.9 732.3,226.9 731.3,226.9 730.3,226.9 729.3,226.9 728.3,226.9 727.3,226.9 726.3,226.9 725.3,226.9 724.3,226.9 723.3,226.9 722.2,226.9 721.2,226.9 720.2,226.9 719.2,226.9 718.2,226.9 717.2,226.9 716.2,226.9 715.2,226.9 714.2,226.9 713.2,226.9 712.1,226.9 711.1,226.9 710.1,226.9 709.1,226.9 708.1,226.9 707.1,226.9 706.1,226.9 705.1,226.9 704.1,226.9 703.1,226.9 702.1,227 701,227 700,227 699,227 698,227 697,227 696,227 695,227 694,227 693,227 692,227 690.9,227 689.9,227 688.9,227.1 687.9,227.1 686.9,227.1 685.9,227.1 684.9,227.1 683.9,227.1 682.9,227.1 681.9,227.1 680.8,227.1 679.8,227.1 678.8,227.2 677.8,227.2 676.8,227.2 675.8,227.2 674.8,227.2 673.8,227.2 672.8,227.2 671.8,227.3 670.7,227.3 669.7,227.3 668.7,227.3 667.7,227.3 666.7,227.4 665.7,227.4 664.7,227.4 663.7,227.5 662.7,227.5 661.7,227.6 660.6,227.6 659.6,227.7 658.6,227.7 657.6,227.7 656.6,227.8 655.6,227.9 654.6,227.9 653.6,228 652.6,228 651.6,228.1 650.5,228.2 649.5,228.2 648.5,228.3 647.5,228.4 646.5,228.5 645.5,228.7 644.5,228.8 643.5,229 642.5,229.1 641.5,229.3 640.4,229.5 639.4,229.7 638.4,229.9 637.4,230.1 636.4,230.3 635.4,230.6 634.4,230.8 633.4,231.1 632.4,231.4 631.4,231.7 630.3,232.1 629.3,232.4 628.3,232.8 627.3,233.2 626.3,233.6 625.3,234 624.3,234.4 623.3,234.8 622.3,235.2 621.3,235.6 620.2,236.2 619.2,236.8 618.2,237.5 617.2,238.3 616.2,239.6 615.2,243.3 615.2,243.3 616.2,251.1 617.2,253.5 618.2,255 619.2,256.8 620.2,258.3 621.3,259.6 622.3,260.9 623.3,262 624.3,263.1 625.3,264.2 626.3,265.1 627.3,266.1 628.3,266.9 629.3,267.7 630.3,268.5 631.4,269.2 632.4,270 633.4,270.6 634.4,271.3 635.4,271.9 636.4,272.6 637.4,273.2 638.4,273.8 639.4,274.4 640.4,275 641.5,275.5 642.5,276.1 643.5,276.6 644.5,277.1 645.5,277.6 646.5,278.1 647.5,278.6 648.5,279 649.5,279.5 650.5,279.9 651.6,280.3 652.6,280.7 653.6,281.1 654.6,281.5 655.6,281.9 656.6,282.3 657.6,282.6 658.6,282.9 659.6,283.3 660.6,283.6 661.7,283.9 662.7,284.2 663.7,284.5 664.7,284.8 665.7,285.1 666.7,285.4 667.7,285.7 668.7,285.9 669.7,286.2 670.7,286.4 671.8,286.7 672.8,286.9 673.8,287.1 674.8,287.3 675.8,287.5 676.8,287.7 677.8,287.9 678.8,288 679.8,288.2 680.8,288.3 681.9,288.5 682.9,288.6 683.9,288.8 684.9,288.9 685.9,289.1 686.9,289.2 687.9,289.3 688.9,289.5 689.9,289.6 690.9,289.8 692,289.9 693,290 694,290.2 695,290.3 696,290.4 697,290.5 698,290.7 699,290.8 700,290.9 701,291.1 702.1,291.2 703.1,291.3 704.1,291.5 705.1,291.7 706.1,291.9 707.1,292.1 708.1,292.3 709.1,292.6 710.1,292.8 711.1,293 712.1,293.1 713.2,293.2 714.2,293.4 715.2,293.5 716.2,293.6 717.2,293.7 718.2,293.8 719.2,294 720.2,294.1 721.2,294.2 722.2,294.2 723.3,294.3 724.3,294.4 725.3,294.5 726.3,294.6 727.3,294.7 728.3,294.8 729.3,294.8 730.3,294.9 731.3,295 732.3,295.1 733.4,295.2 734.4,295.2 735.4,295.3 736.4,295.4 737.4,295.5 738.4,295.5 739.4,295.6 740.4,295.7 741.4,295.8 742.4,295.8 743.5,295.9 744.5,296 745.5,296 746.5,296.1 747.5,296.2 748.5,296.2 749.5,296.3 750.5,296.4 751.5,296.4 752.5,296.5 753.6,296.6 754.6,296.6 755.6,296.7 756.6,296.7 757.6,296.8 758.6,296.8 759.6,296.9 760.6,296.9 761.6,297 762.6,297 763.7,297.1 764.7,297.1 765.7,297.2 766.7,297.2 767.7,297.2 768.7,297.3 769.7,297.3 770.7,297.4 771.7,297.4 772.7,297.4 773.8,297.5 774.8,297.5 775.8,297.5 776.8,297.6 777.8,297.6 778.8,297.6 779.8,297.7 780.8,297.7 781.8,297.7 782.8,297.7 783.9,297.7 784.9,297.8 785.9,297.8 786.9,297.8 787.9,297.8 788.9,297.8 789.9,297.9 790.9,297.9 791.9,297.9 792.9,297.9 794,297.9 795,297.9 796,297.9 797,297.9 798,297.9 799,297.9" fill="none" stroke="#8FB032" stroke-width="2.1" stroke-linejoin="round"/>
<polyline points="799,226.9 798,226.9 797,226.9 796,226.9 795,226.9 794,226.9 792.9,226.9 791.9,226.9 790.9,226.9 789.9,226.9 788.9,226.9 787.9,226.8 786.9,226.8 785.9,226.8 784.9,226.8 783.9,226.8 782.8,226.8 781.8,226.8 780.8,226.8 779.8,226.8 778.8,226.8 777.8,226.8 776.8,226.8 775.8,226.8 774.8,226.8 773.8,226.8 772.8,226.8 771.7,226.8 770.7,226.8 769.7,226.8 768.7,226.8 767.7,226.8 766.7,226.8 765.7,226.7 764.7,226.7 763.7,226.7 762.7,226.7 761.6,226.7 760.6,226.7 759.6,226.7 758.6,226.7 757.6,226.7 756.6,226.7 755.6,226.7 754.6,226.7 753.6,226.7 752.6,226.7 751.5,226.7 750.5,226.7 749.5,226.7 748.5,226.7 747.5,226.7 746.5,226.7 745.5,226.7 744.5,226.7 743.5,226.7 742.5,226.7 741.5,226.6 740.4,226.6 739.4,226.6 738.4,226.6 737.4,226.6 736.4,226.6 735.4,226.6 734.4,226.6 733.4,226.6 732.4,226.6 731.4,226.6 730.3,226.6 729.3,226.6 728.3,226.6 727.3,226.6 726.3,226.6 725.3,226.6 724.3,226.6 723.3,226.6 722.3,226.6 721.3,226.6 720.2,226.6 719.2,226.6 718.2,226.6 717.2,226.6 716.2,226.6 715.2,226.6 714.2,226.5 713.2,226.5 712.2,226.5 711.2,226.5 710.2,226.5 709.1,226.5 708.1,226.5 707.1,226.5 706.1,226.5 705.1,226.5 704.1,226.5 703.1,226.5 702.1,226.5 701.1,226.5 700.1,226.5 699,226.5 698,226.5 697,226.5 696,226.5 695,226.5 694,226.5 693,226.5 692,226.5 691,226.5 690,226.5 689,226.5 687.9,226.5 686.9,226.5 685.9,226.4 684.9,226.4 683.9,226.4 682.9,226.4 681.9,226.4 680.9,226.4 679.9,226.4 678.9,226.4 677.8,226.4 676.8,226.4 675.8,226.4 674.8,226.4 673.8,226.4 672.8,226.4 671.8,226.4 670.8,226.4 669.8,226.4 668.8,226.4 667.8,226.4 666.7,226.4 665.7,226.4 664.7,226.4 663.7,226.4 662.7,226.5 661.7,226.5 660.7,226.6 659.7,226.6 658.7,226.7 657.7,226.8 656.6,226.8 655.6,226.9 654.6,227 653.6,227.1 652.6,227.2 651.6,227.3 650.6,227.4 649.6,227.6 648.6,227.8 647.6,228 646.5,228.3 645.5,228.7 644.5,229 643.5,229.6 642.5,230.6 641.5,232.5 641.5,232.5 642.5,235.1 643.5,236.6 644.5,237.5 645.5,238.2 646.5,238.9 647.5,239.5 648.5,240.1 649.6,240.6 650.6,241.2 651.6,241.7 652.6,242.1 653.6,242.6 654.6,243.1 655.6,243.5 656.6,244 657.6,244.4 658.6,244.9 659.6,245.3 660.6,245.8 661.6,246.2 662.6,246.6 663.7,247 664.7,247.3 665.7,247.7 666.7,248 667.7,248.3 668.7,248.6 669.7,248.8 670.7,249.1 671.7,249.3 672.7,249.6 673.7,249.8 674.7,250 675.7,250.2 676.7,250.4 677.8,250.7 678.8,250.9 679.8,251.1 680.8,251.3 681.8,251.5 682.8,251.7 683.8,251.9 684.8,252 685.8,252.2 686.8,252.4 687.8,252.6 688.8,252.8 689.8,252.9 690.8,253.1 691.9,253.3 692.9,253.4 693.9,253.6 694.9,253.7 695.9,253.9 696.9,254 697.9,254.2 698.9,254.3 699.9,254.5 700.9,254.6 701.9,254.7 702.9,254.9 703.9,255 704.9,255.2 706,255.4 707,255.5 708,255.7 709,255.9 710,256.1 711,256.3 712,256.4 713,256.6 714,256.8 715,257 716,257.1 717,257.3 718,257.4 719,257.5 720,257.6 721.1,257.8 722.1,257.9 723.1,258 724.1,258.1 725.1,258.2 726.1,258.3 727.1,258.4 728.1,258.4 729.1,258.5 730.1,258.6 731.1,258.7 732.1,258.8 733.1,258.8 734.1,258.9 735.2,259 736.2,259 737.2,259.1 738.2,259.2 739.2,259.2 740.2,259.3 741.2,259.3 742.2,259.4 743.2,259.5 744.2,259.5 745.2,259.6 746.2,259.7 747.2,259.8 748.2,259.9 749.3,260 750.3,260.1 751.3,260.1 752.3,260.2 753.3,260.2 754.3,260.2 755.3,260.3 756.3,260.3 757.3,260.3 758.3,260.3 759.3,260.4 760.3,260.4 761.3,260.4 762.3,260.4 763.4,260.4 764.4,260.5 765.4,260.5 766.4,260.5 767.4,260.6 768.4,260.6 769.4,260.7 770.4,260.7 771.4,260.8 772.4,260.8 773.4,260.9 774.4,260.9 775.4,261 776.4,261 777.5,261.1 778.5,261.1 779.5,261.1 780.5,261.2 781.5,261.2 782.5,261.2 783.5,261.2 784.5,261.3 785.5,261.3 786.5,261.3 787.5,261.3 788.5,261.3 789.5,261.3 790.5,261.4 791.6,261.4 792.6,261.4 793.6,261.4 794.6,261.5 795.6,261.5 796.6,261.5 797.6,261.6 798.6,261.6" fill="none" stroke="#E19C24" stroke-width="2.1" stroke-linejoin="round"/>
<polygon points="783.7,226.5 785.9,224.3 787.1,224.3 789.3,226.5 789.3,227.7 787.1,229.9 785.9,229.9 783.7,227.7" fill="#EB6235"/>
<polygon points="759.5,226.7 761.7,224.5 762.9,224.5 765.1,226.7 765.1,227.9 762.9,230.1 761.7,230.1 759.5,227.9" fill="#EB6235"/>
<polygon points="750.1,226.8 752.3,224.6 753.5,224.6 755.7,226.8 755.7,228 753.5,230.2 752.3,230.2 750.1,228" fill="#EB6235"/>
<polygon points="660.5,229.8 662.7,227.6 663.9,227.6 666.1,229.8 666.1,231 663.9,233.2 662.7,233.2 660.5,231" fill="#EB6235"/>
<polygon points="646.2,231.4 648.4,229.2 649.6,229.2 651.8,231.4 651.8,232.6 649.6,234.8 648.4,234.8 646.2,232.6" fill="#EB6235"/>
<polygon points="635,233.3 637.2,231.1 638.4,231.1 640.6,233.3 640.6,234.5 638.4,236.7 637.2,236.7 635,234.5" fill="#EB6235"/>
<polygon points="626.2,235.8 628.4,233.6 629.6,233.6 631.8,235.8 631.8,237 629.6,239.2 628.4,239.2 626.2,237" fill="#EB6235"/>
<polygon points="619.6,238.4 621.8,236.2 623,236.2 625.2,238.4 625.2,239.6 623,241.8 621.8,241.8 619.6,239.6" fill="#EB6235"/>
<polygon points="796.2,338.4 798.4,336.2 799.6,336.2 801.8,338.4 801.8,339.6 799.6,341.8 798.4,341.8 796.2,339.6" fill="#EB6235"/>
<polygon points="787.5,340.5 789.7,338.3 790.9,338.3 793.1,340.5 793.1,341.8 790.9,343.9 789.7,343.9 787.5,341.8" fill="#EB6235"/>
<polygon points="778.8,340.3 781,338.1 782.2,338.1 784.4,340.3 784.4,341.5 782.2,343.7 781,343.7 778.8,341.5" fill="#EB6235"/>
<polygon points="770.1,339.7 772.3,337.5 773.5,337.5 775.7,339.7 775.7,340.9 773.5,343.1 772.3,343.1 770.1,340.9" fill="#EB6235"/>
<polygon points="761.4,339.3 763.6,337.1 764.8,337.1 767,339.3 767,340.5 764.8,342.7 763.6,342.7 761.4,340.5" fill="#EB6235"/>
<polygon points="752.7,338.8 754.9,336.6 756.1,336.6 758.3,338.8 758.3,340.1 756.1,342.2 754.9,342.2 752.7,340.1" fill="#EB6235"/>
<polygon points="744,338.4 746.2,336.2 747.4,336.2 749.6,338.4 749.6,339.6 747.4,341.8 746.2,341.8 744,339.6" fill="#EB6235"/>
<polygon points="735.3,338 737.5,335.8 738.7,335.8 740.9,338 740.9,339.2 738.7,341.4 737.5,341.4 735.3,339.2" fill="#EB6235"/>
<polygon points="726.6,337.4 728.8,335.2 730,335.2 732.2,337.4 732.2,338.6 730,340.8 728.8,340.8 726.6,338.6" fill="#EB6235"/>
<polygon points="717.9,336.5 720.1,334.3 721.3,334.3 723.5,336.5 723.5,337.7 721.3,339.9 720.1,339.9 717.9,337.7" fill="#EB6235"/>
<polygon points="709.2,334.6 711.4,332.4 712.6,332.4 714.8,334.6 714.8,335.9 712.6,338 711.4,338 709.2,335.9" fill="#EB6235"/>
<polygon points="700.5,333.1 702.7,330.9 703.9,330.9 706.1,333.1 706.1,334.4 703.9,336.5 702.7,336.5 700.5,334.4" fill="#EB6235"/>
<polygon points="691.8,332.1 694,329.9 695.2,329.9 697.4,332.1 697.4,333.3 695.2,335.5 694,335.5 691.8,333.3" fill="#EB6235"/>
<circle cx="599.2" cy="258.3" r="2.3" fill="#EB6235"/>
<circle cx="599.2" cy="271.7" r="2.3" fill="#EB6235"/>
<rect x="612.6" y="238.3" width="6.1" height="6.1" fill="#8FB032"/>
<rect x="615.6" y="234.1" width="6.1" height="6.1" fill="#8FB032"/>
<rect x="620.4" y="231.7" width="6.1" height="6.1" fill="#8FB032"/>
<rect x="625.4" y="229.7" width="6.1" height="6.1" fill="#8FB032"/>
<rect x="630.4" y="228" width="6.1" height="6.1" fill="#8FB032"/>
<rect x="635.7" y="226.8" width="6.1" height="6.1" fill="#8FB032"/>
<rect x="640.9" y="225.8" width="6.1" height="6.1" fill="#8FB032"/>
<rect x="646.2" y="225.2" width="6.1" height="6.1" fill="#8FB032"/>
<rect x="651.6" y="224.9" width="6.1" height="6.1" fill="#8FB032"/>
<rect x="657" y="224.6" width="6.1" height="6.1" fill="#8FB032"/>
<rect x="660.2" y="224.8" width="5.5" height="5.5" fill="#8FB032"/>
<rect x="663.2" y="224.7" width="5.5" height="5.5" fill="#8FB032"/>
<rect x="666.2" y="224.6" width="5.5" height="5.5" fill="#8FB032"/>
<rect x="669.2" y="224.5" width="5.5" height="5.5" fill="#8FB032"/>
<rect x="672.2" y="224.5" width="5.5" height="5.5" fill="#8FB032"/>
<rect x="675.2" y="224.4" width="5.5" height="5.5" fill="#8FB032"/>
<rect x="678.2" y="224.4" width="5.5" height="5.5" fill="#8FB032"/>
<rect x="681.2" y="224.3" width="5.5" height="5.5" fill="#8FB032"/>
<rect x="684.2" y="224.3" width="5.5" height="5.5" fill="#8FB032"/>
<rect x="687.2" y="224.3" width="5.5" height="5.5" fill="#8FB032"/>
<rect x="690.2" y="224.3" width="5.5" height="5.5" fill="#8FB032"/>
<rect x="693.2" y="224.2" width="5.5" height="5.5" fill="#8FB032"/>
<rect x="696.2" y="224.2" width="5.5" height="5.5" fill="#8FB032"/>
<rect x="699.2" y="224.2" width="5.5" height="5.5" fill="#8FB032"/>
<rect x="702.2" y="224.2" width="5.5" height="5.5" fill="#8FB032"/>
<rect x="705.2" y="224.2" width="5.5" height="5.5" fill="#8FB032"/>
<rect x="708.2" y="224.2" width="5.5" height="5.5" fill="#8FB032"/>
<rect x="711.2" y="224.2" width="5.5" height="5.5" fill="#8FB032"/>
<rect x="714.2" y="224.2" width="5.5" height="5.5" fill="#8FB032"/>
<rect x="717.2" y="224.2" width="5.5" height="5.5" fill="#8FB032"/>
<rect x="720.2" y="224.2" width="5.5" height="5.5" fill="#8FB032"/>
<rect x="723.2" y="224.2" width="5.5" height="5.5" fill="#8FB032"/>
<rect x="726.2" y="224.2" width="5.5" height="5.5" fill="#8FB032"/>
<rect x="729.2" y="224.2" width="5.5" height="5.5" fill="#8FB032"/>
<rect x="735" y="223.8" width="6.1" height="6.1" fill="#8FB032"/>
<rect x="745" y="223.8" width="6.1" height="6.1" fill="#8FB032"/>
<rect x="755.5" y="223.8" width="6.1" height="6.1" fill="#8FB032"/>
<rect x="770.2" y="223.8" width="6.1" height="6.1" fill="#8FB032"/>
<rect x="790" y="223.8" width="6.1" height="6.1" fill="#8FB032"/>
<rect x="795" y="223.8" width="6.1" height="6.1" fill="#8FB032"/>
<rect x="612.4" y="243.4" width="6.1" height="6.1" fill="#8FB032"/>
<rect x="613.5" y="249" width="6.1" height="6.1" fill="#8FB032"/>
<rect x="616.3" y="253.8" width="6.1" height="6.1" fill="#8FB032"/>
<rect x="619.7" y="258.3" width="6.1" height="6.1" fill="#8FB032"/>
<rect x="623.6" y="262.4" width="6.1" height="6.1" fill="#8FB032"/>
<rect x="628" y="265.9" width="6.1" height="6.1" fill="#8FB032"/>
<rect x="631" y="268" width="6.1" height="6.1" fill="#8FB032"/>
<rect x="634" y="269.9" width="6.1" height="6.1" fill="#8FB032"/>
<rect x="637.5" y="271.9" width="6.1" height="6.1" fill="#8FB032"/>
<rect x="640.5" y="273.6" width="6.1" height="6.1" fill="#8FB032"/>
<rect x="643.5" y="275.1" width="6.1" height="6.1" fill="#8FB032"/>
<rect x="646.5" y="276.4" width="6.1" height="6.1" fill="#8FB032"/>
<rect x="653.2" y="279.1" width="6.1" height="6.1" fill="#8FB032"/>
<rect x="656.2" y="280.1" width="6.1" height="6.1" fill="#8FB032"/>
<rect x="670.7" y="284.1" width="6.1" height="6.1" fill="#8FB032"/>
<rect x="673.7" y="284.6" width="6.1" height="6.1" fill="#8FB032"/>
<rect x="688.5" y="286.8" width="6.1" height="6.1" fill="#8FB032"/>
<rect x="691.2" y="287.1" width="6.1" height="6.1" fill="#8FB032"/>
<rect x="693.9" y="287.5" width="6.1" height="6.1" fill="#8FB032"/>
<rect x="696.5" y="287.8" width="6.1" height="6.1" fill="#8FB032"/>
<rect x="700.5" y="288.4" width="6.1" height="6.1" fill="#8FB032"/>
<rect x="706.2" y="289.6" width="6.1" height="6.1" fill="#8FB032"/>
<rect x="709.2" y="290.1" width="6.1" height="6.1" fill="#8FB032"/>
<rect x="713.7" y="290.6" width="6.1" height="6.1" fill="#8FB032"/>
<rect x="718.5" y="291.1" width="6.1" height="6.1" fill="#8FB032"/>
<rect x="721" y="291.4" width="6.1" height="6.1" fill="#8FB032"/>
<rect x="727" y="291.8" width="6.1" height="6.1" fill="#8FB032"/>
<rect x="739" y="292.8" width="6.1" height="6.1" fill="#8FB032"/>
<rect x="756.1" y="293.8" width="6.1" height="6.1" fill="#8FB032"/>
<rect x="762.4" y="294.1" width="6.1" height="6.1" fill="#8FB032"/>
<rect x="779" y="294.6" width="6.1" height="6.1" fill="#8FB032"/>
<rect x="789.2" y="294.8" width="6.1" height="6.1" fill="#8FB032"/>
<rect x="794.7" y="294.8" width="6.1" height="6.1" fill="#8FB032"/>
<rect x="612.2" y="240.2" width="6.1" height="6.1" fill="#8FB032"/>
<polygon points="638.6,230.1 641.5,227.2 643.1,227.2 646,230.1 646,231.7 643.1,234.6 641.5,234.6 638.6,231.7" fill="#E19C24"/>
<polygon points="642.4,227.6 645.3,224.8 646.9,224.8 649.8,227.6 649.8,229.3 646.9,232.2 645.3,232.2 642.4,229.3" fill="#E19C24"/>
<polygon points="647,226.6 649.9,223.7 651.5,223.7 654.4,226.6 654.4,228.3 651.5,231.1 649.9,231.1 647,228.3" fill="#E19C24"/>
<polygon points="651.6,226.1 654.5,223.3 656.2,223.3 659,226.1 659,227.8 656.2,230.7 654.5,230.7 651.6,227.8" fill="#E19C24"/>
<polygon points="656.3,225.8 659.2,222.9 660.8,222.9 663.7,225.8 663.7,227.4 660.8,230.3 659.2,230.3 656.3,227.4" fill="#E19C24"/>
<polygon points="664.4,225.6 667.3,222.7 668.9,222.7 671.8,225.6 671.8,227.2 668.9,230.1 667.3,230.1 664.4,227.2" fill="#E19C24"/>
<polygon points="671.9,225.6 674.8,222.7 676.4,222.7 679.3,225.6 679.3,227.2 676.4,230.1 674.8,230.1 671.9,227.2" fill="#E19C24"/>
<polygon points="679,225.6 681.9,222.7 683.5,222.7 686.4,225.6 686.4,227.2 683.5,230.1 681.9,230.1 679,227.2" fill="#E19C24"/>
<polygon points="687.3,225.7 690.2,222.8 691.8,222.8 694.7,225.7 694.7,227.3 691.8,230.2 690.2,230.2 687.3,227.3" fill="#E19C24"/>
<polygon points="690.8,225.7 693.7,222.8 695.3,222.8 698.2,225.7 698.2,227.3 695.3,230.2 693.7,230.2 690.8,227.3" fill="#E19C24"/>
<polygon points="694.3,225.7 697.2,222.8 698.8,222.8 701.7,225.7 701.7,227.3 698.8,230.2 697.2,230.2 694.3,227.3" fill="#E19C24"/>
<polygon points="697.6,225.7 700.5,222.8 702.1,222.8 705,225.7 705,227.3 702.1,230.2 700.5,230.2 697.6,227.3" fill="#E19C24"/>
<polygon points="702,225.7 704.9,222.8 706.5,222.8 709.4,225.7 709.4,227.3 706.5,230.2 704.9,230.2 702,227.3" fill="#E19C24"/>
<polygon points="707.3,225.7 710.2,222.8 711.8,222.8 714.7,225.7 714.7,227.4 711.8,230.2 710.2,230.2 707.3,227.4" fill="#E19C24"/>
<polygon points="712.8,225.7 715.7,222.9 717.3,222.9 720.2,225.7 720.2,227.4 717.3,230.3 715.7,230.3 712.8,227.4" fill="#E19C24"/>
<polygon points="719.3,225.8 722.2,222.9 723.8,222.9 726.7,225.8 726.7,227.4 723.8,230.3 722.2,230.3 719.3,227.4" fill="#E19C24"/>
<polygon points="726.3,225.8 729.2,222.9 730.8,222.9 733.7,225.8 733.7,227.4 730.8,230.3 729.2,230.3 726.3,227.4" fill="#E19C24"/>
<polygon points="734.3,225.8 737.2,222.9 738.8,222.9 741.7,225.8 741.7,227.5 738.8,230.3 737.2,230.3 734.3,227.5" fill="#E19C24"/>
<polygon points="743.8,225.9 746.7,223 748.3,223 751.2,225.9 751.2,227.5 748.3,230.4 746.7,230.4 743.8,227.5" fill="#E19C24"/>
<polygon points="754.8,225.9 757.7,223 759.3,223 762.2,225.9 762.2,227.5 759.3,230.4 757.7,230.4 754.8,227.5" fill="#E19C24"/>
<polygon points="789.3,226.1 792.2,223.2 793.8,223.2 796.7,226.1 796.7,227.7 793.8,230.6 792.2,230.6 789.3,227.7" fill="#E19C24"/>
<polygon points="638.6,233.8 641.5,231 643.1,231 646,233.8 646,235.5 643.1,238.4 641.5,238.4 638.6,235.5" fill="#E19C24"/>
<polygon points="641.4,237.1 644.3,234.2 646,234.2 648.8,237.1 648.8,238.7 646,241.6 644.3,241.6 641.4,238.7" fill="#E19C24"/>
<polygon points="645.2,239.4 648.1,236.6 649.7,236.6 652.6,239.4 652.6,241.1 649.7,244 648.1,244 645.2,241.1" fill="#E19C24"/>
<polygon points="649.1,241.4 652,238.6 653.6,238.6 656.5,241.4 656.5,243.1 653.6,246 652,246 649.1,243.1" fill="#E19C24"/>
<polygon points="653.1,243.3 656,240.4 657.7,240.4 660.5,243.3 660.5,244.9 657.7,247.8 656,247.8 653.1,244.9" fill="#E19C24"/>
<polygon points="657.2,245 660.1,242.2 661.7,242.2 664.6,245 664.6,246.7 661.7,249.6 660.1,249.6 657.2,246.7" fill="#E19C24"/>
<polygon points="661.3,246.6 664.2,243.7 665.8,243.7 668.7,246.6 668.7,248.3 665.8,251.1 664.2,251.1 661.3,248.3" fill="#E19C24"/>
<polygon points="671.9,249.4 674.8,246.5 676.4,246.5 679.3,249.4 679.3,251 676.4,253.9 674.8,253.9 671.9,251" fill="#E19C24"/>
<polygon points="685.3,252 688.2,249.1 689.8,249.1 692.7,252 692.7,253.6 689.8,256.5 688.2,256.5 685.3,253.6" fill="#E19C24"/>
<polygon points="689,252.6 691.9,249.7 693.5,249.7 696.4,252.6 696.4,254.2 693.5,257.1 691.9,257.1 689,254.2" fill="#E19C24"/>
<polygon points="692.7,253.1 695.6,250.3 697.2,250.3 700.1,253.1 700.1,254.8 697.2,257.7 695.6,257.7 692.7,254.8" fill="#E19C24"/>
<polygon points="696.4,253.7 699.3,250.8 700.9,250.8 703.8,253.7 703.8,255.3 700.9,258.2 699.3,258.2 696.4,255.3" fill="#E19C24"/>
<polygon points="700.1,254.2 703,251.3 704.6,251.3 707.5,254.2 707.5,255.8 704.6,258.7 703,258.7 700.1,255.8" fill="#E19C24"/>
<polygon points="703.8,254.8 706.7,251.9 708.3,251.9 711.2,254.8 711.2,256.4 708.3,259.3 706.7,259.3 703.8,256.4" fill="#E19C24"/>
<polygon points="707.5,255.5 710.4,252.6 712,252.6 714.9,255.5 714.9,257.1 712,260 710.4,260 707.5,257.1" fill="#E19C24"/>
<polygon points="711.2,256.1 714,253.2 715.7,253.2 718.6,256.1 718.6,257.8 715.7,260.6 714,260.6 711.2,257.8" fill="#E19C24"/>
<polygon points="714.9,256.7 717.7,253.8 719.4,253.8 722.3,256.7 722.3,258.3 719.4,261.2 717.7,261.2 714.9,258.3" fill="#E19C24"/>
<polygon points="718.6,257.1 721.5,254.2 723.1,254.2 726,257.1 726,258.7 723.1,261.6 721.5,261.6 718.6,258.7" fill="#E19C24"/>
<polygon points="722.3,257.4 725.2,254.6 726.8,254.6 729.7,257.4 729.7,259.1 726.8,262 725.2,262 722.3,259.1" fill="#E19C24"/>
<polygon points="730.3,258.1 733.2,255.2 734.8,255.2 737.7,258.1 737.7,259.7 734.8,262.6 733.2,262.6 730.3,259.7" fill="#E19C24"/>
<polygon points="738.8,258.6 741.7,255.7 743.3,255.7 746.2,258.6 746.2,260.2 743.3,263.1 741.7,263.1 738.8,260.2" fill="#E19C24"/>
<polygon points="749.2,259.4 752.1,256.5 753.7,256.5 756.6,259.4 756.6,261 753.7,263.9 752.1,263.9 749.2,261" fill="#E19C24"/>
<polygon points="755.3,259.5 758.2,256.7 759.8,256.7 762.7,259.5 762.7,261.2 759.8,264.1 758.2,264.1 755.3,261.2" fill="#E19C24"/>
<polygon points="761.7,259.7 764.6,256.8 766.2,256.8 769.1,259.7 769.1,261.3 766.2,264.2 764.6,264.2 761.7,261.3" fill="#E19C24"/>
<polygon points="777.8,260.4 780.7,257.5 782.3,257.5 785.2,260.4 785.2,262 782.3,264.9 780.7,264.9 777.8,262" fill="#E19C24"/>
<polygon points="788.6,260.6 791.5,257.7 793.1,257.7 796,260.6 796,262.2 793.1,265.1 791.5,265.1 788.6,262.2" fill="#E19C24"/>
<polygon points="794.9,260.8 797.8,257.9 799.4,257.9 802.3,260.8 802.3,262.4 799.4,265.3 797.8,265.3 794.9,262.4" fill="#E19C24"/>
<text class="t" x="623" y="211.8">A1−CWPr: <tspan font-style="italic">M</tspan>=16, <tspan font-style="italic">R</tspan>=8, <tspan font-style="italic">q</tspan>=2</text>
<rect x="628" y="378.2" width="15.2" height="1.9" fill="#5E81B5"/>
<path d="M635.6 375.7L639.1 381.6L632.1 381.6Z" fill="#5E81B5" stroke="#5E81B5" stroke-width="0.8" stroke-linejoin="round"/>
<text class="l" x="649.3" y="380.9">1</text>
<rect x="664" y="378.2" width="15.2" height="1.9" fill="#E19C24"/>
<polygon points="667.8,377.9 670.8,374.9 672.4,374.9 675.4,377.9 675.4,379.5 672.4,382.5 670.8,382.5 667.8,379.5" fill="#E19C24"/>
<text class="l" x="684.4" y="380.9">2</text>
<rect x="700.4" y="378.2" width="15.2" height="1.9" fill="#8FB032"/>
<rect x="705.3" y="376" width="5.8" height="5.8" fill="#8FB032"/>
<text class="l" x="721.2" y="380.9">4</text>
<rect x="736.2" y="378.2" width="15.2" height="1.9" fill="#EB6235"/>
<polygon points="741.3,378.3 743.4,376.2 744.6,376.2 746.7,378.3 746.7,379.5 744.6,381.6 743.4,381.6 741.3,379.5" fill="#EB6235"/>
<text class="l" transform="translate(758.3 381) scale(1.06 0.86)" x="0" y="0">∞</text>
</svg></body></html>
